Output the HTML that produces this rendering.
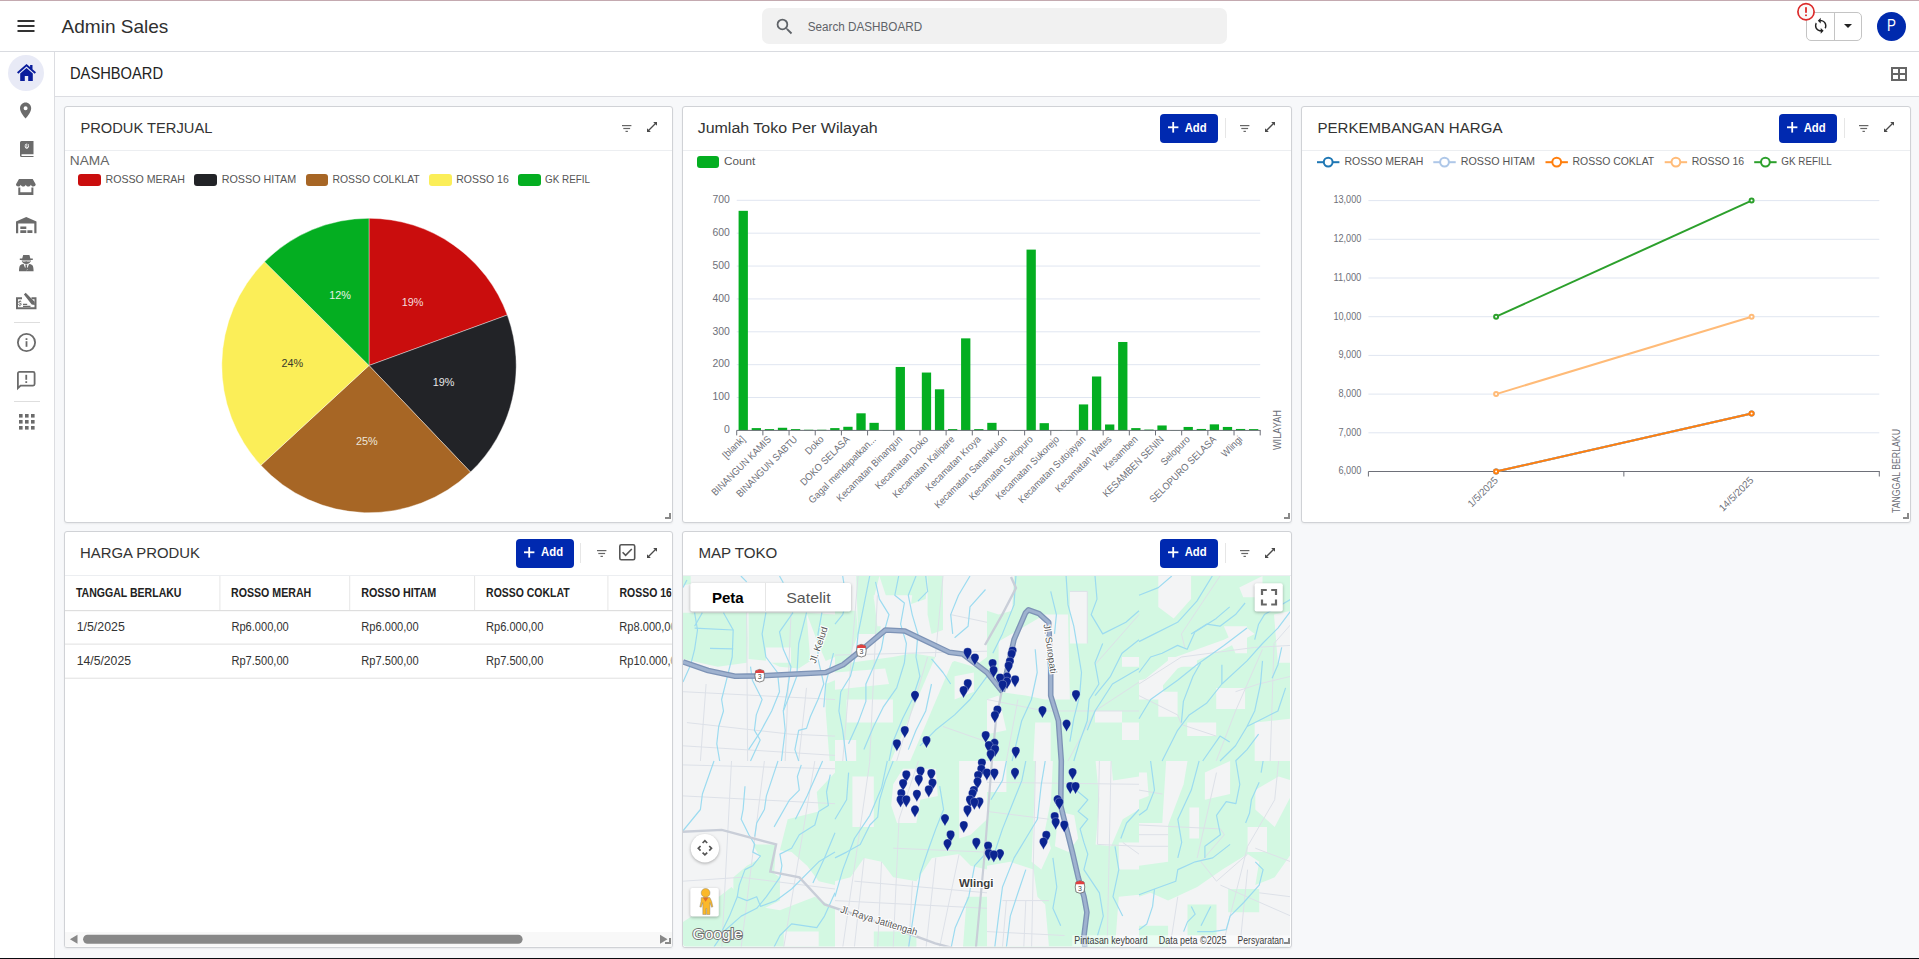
<!DOCTYPE html><html><head><meta charset="utf-8"><style>
*{box-sizing:border-box;margin:0;padding:0}
html,body{width:1919px;height:959px;overflow:hidden;background:#fff;font-family:"Liberation Sans",sans-serif;color:#333}
.a{position:absolute;white-space:nowrap}
svg{position:absolute;overflow:visible}
text{font-family:"Liberation Sans",sans-serif}
.card{position:absolute;background:#fff;border:1px solid #d0d2d6;border-radius:3px;box-shadow:0 1px 2px rgba(0,0,0,0.06)}
.chd{position:absolute;left:0;top:0;right:0;height:44px;border-bottom:1px solid #eceef1}
.add{position:absolute;top:7px;width:58px;height:29px;background:#0029b0;border-radius:4px}
.sep{position:absolute;top:11px;width:1px;height:21px;background:#e4e4e4}
</style></head><body>
<div class="a" style="left:0;top:0;width:1919px;height:1px;background:#c4aab0"></div>
<div class="a" style="left:0;top:1px;width:1919px;height:51px;background:#fff;border-bottom:1px solid #d9dbe0"></div>
<svg style="left:17px;top:20px" width="18" height="12"><rect x="0.5" y="0" width="17" height="2" fill="#333"/><rect x="0.5" y="5" width="17" height="2" fill="#333"/><rect x="0.5" y="10" width="17" height="2" fill="#333"/></svg>
<div class="a" style="left:762px;top:8px;width:465px;height:36px;background:#f1f1f1;border-radius:7px"></div>
<svg style="left:773.6px;top:15.6px" width="21.3" height="21.3" viewBox="0 0 24 24"><path fill="#5f6368" d="M15.5 14h-.79l-.28-.27A6.47 6.47 0 0 0 16 9.5 6.5 6.5 0 1 0 9.5 16c1.61 0 3.09-.59 4.23-1.57l.27.28v.79l5 4.99L20.49 19l-4.99-5zm-6 0C7.01 14 5 11.99 5 9.5S7.01 5 9.5 5 14 7.01 14 9.5 11.99 14 9.5 14z"/></svg>
<div class="a" style="left:1806px;top:12px;width:56px;height:29px;border:1px solid #c4c4c4;border-radius:5px"></div>
<div class="a" style="left:1834px;top:12px;width:1px;height:29px;background:#c4c4c4"></div>
<svg style="left:1812.1px;top:17.3px" width="17.45" height="17.45" viewBox="0 0 24 24"><path fill="#222" d="M12 4V1L8 5l4 4V6c3.31 0 6 2.69 6 6 0 1.01-.25 1.97-.7 2.8l1.46 1.46C19.54 15.03 20 13.57 20 12c0-4.42-3.58-8-8-8zm0 14c-3.31 0-6-2.69-6-6 0-1.01.25-1.97.7-2.8L5.24 7.74C4.46 8.97 4 10.43 4 12c0 4.42 3.58 8 8 8v3l4-4-4-4v3z"/></svg>
<svg style="left:1844px;top:24px" width="8" height="4"><path d="M0 0h8l-4 4z" fill="#222"/></svg>
<svg style="left:1796px;top:2px" width="20" height="20"><circle cx="10" cy="9.75" r="8.1" fill="#fafafa" stroke="#dc2a2a" stroke-width="1.7"/><rect x="9.1" y="5.2" width="1.8" height="5.6" fill="#dc2a2a"/><rect x="9.1" y="12.5" width="1.8" height="1.6" fill="#dc2a2a"/></svg>
<div class="a" style="left:1877px;top:11.9px;width:29px;height:29px;border-radius:50%;background:#002aad"></div>
<div class="a" style="left:0;top:52px;width:55px;height:906px;background:#fff;border-right:1px solid #dcdde1"></div>
<div class="a" style="left:8px;top:54.8px;width:36px;height:36px;border-radius:50%;background:#e8eaf6"></div>
<svg style="left:17px;top:63.5px" width="19" height="17" viewBox="0 0 19 17"><path fill="#0a1d9c" d="M9.5 0L0 8.2l1.3 1.5L9.5 2.6l8.2 7.1 1.3-1.5L15.5 5.2V1h-2.4v2.1z M3.2 9.5V17h4.6v-5h3.4v5h4.6V9.5L9.5 4.1z"/></svg>
<svg style="left:16.1px;top:101.2px" width="19.2" height="19.2" viewBox="0 0 24 24"><path fill="#6b6b6b" d="M12 2C8.13 2 5 5.13 5 9c0 5.25 7 13 7 13s7-7.75 7-13c0-3.87-3.13-7-7-7zm0 9.5a2.5 2.5 0 0 1 0-5 2.5 2.5 0 0 1 0 5z"/></svg>
<svg style="left:19.8px;top:140.8px" width="13.5" height="16" viewBox="0 0 13.5 16"><path fill="#6b6b6b" d="M1.5 0H13.5V13.2H2.2A0.9 0.9 0 0 0 2.2 15H13.5V16H1.5A1.5 1.5 0 0 1 0 14.5V1.5A1.5 1.5 0 0 1 1.5 0z"/><path fill="#fff" d="M4.6 4.5c0 2 1 3.2 2.2 3.2s2.2-1.2 2.2-3.2h-.9c0 1.3-.5 2-1.3 2s-1.3-.7-1.3-2z M6.4 2.5h.8v3.2h-.8z M5 3h.7v1.7H5z M7.9 3h.7v1.7h-.7z"/></svg>
<svg style="left:16.2px;top:178.8px" width="19.7" height="16" viewBox="0 0 19.7 16"><path fill="#6b6b6b" d="M3 0h13.7l3 5.2c0 1.3-1.1 2.3-2.4 2.3-1.2 0-2-.8-2.4-1.8-.4 1-1.3 1.8-2.6 1.8s-2.2-.8-2.5-1.8c-.4 1-1.3 1.8-2.5 1.8S5.1 6.7 4.7 5.7C4.3 6.7 3.6 7.5 2.4 7.5 1.1 7.5 0 6.5 0 5.2z M2.3 8.4h2v4.8h11.1V8.4h2V16H2.3z"/></svg>
<svg style="left:15.9px;top:216.8px" width="20.5" height="16.2" viewBox="0 0 20.5 16.2"><path fill="#6b6b6b" d="M0 4.5L10.25 0 20.5 4.5V16.2H18.3V6.6H2.2V16.2H0Z M4.3 9.4h6v2.6h-6z M4.3 13.2h6v2.7h-6z M11.4 13.2h5v2.7h-5z"/></svg>
<svg style="left:19.1px;top:254.8px" width="14.6" height="16.2" viewBox="0 0 14.6 16.2"><path fill="#6b6b6b" d="M4.2 0h6.2l1 3.4h2.4v1.5H0.8V3.4h2.4z M2.6 5.6h9.4c-.3 1.9-2.2 3.4-4.7 3.4S2.9 7.5 2.6 5.6z M1.2 10.2c1-.8 2.2-1.2 3.4-1.2l2.7 7.2H0c0-2.3.3-4.9 1.2-6z M13.4 10.2c-1-.8-2.2-1.2-3.4-1.2l-2.7 7.2h7.3c0-2.3-.3-4.9-1.2-6z M6.2 9.4h2.2l-.4 1.6.5 3.6-1.2 1.4-1.2-1.4.5-3.6z"/><path fill="#fff" d="M3.6 6.2h3l.5.7h.4l.5-.7h3v.5H3.6z"/></svg>
<svg style="left:15.9px;top:292.8px" width="20.5" height="16.2" viewBox="0 0 20.5 16.2"><path fill="none" stroke="#6b6b6b" stroke-width="2" d="M6 5.2H1V15.2H19.5V5.2H15.5"/><path fill="#6b6b6b" d="M7.9 1.6L9.7 -0.2 18.6 8.7 18.9 11.9 15.7 11.6z M3.8 8.1c-.9 0-1.5.5-1.5 1.2 0 1.4 2.4 1 2.4 1.9 0 .4-.3.6-.9.6-.5 0-.9-.3-1-.7H2.1c.1.7.6 1.2 1.3 1.3v.8h.9v-.8c.8-.1 1.3-.6 1.3-1.2 0-1.5-2.4-1.1-2.4-1.9 0-.3.3-.6.8-.6.4 0 .8.2.9.6h.7c-.1-.6-.5-1-1.1-1.1V7.3h-.9z M7 10.8h4.2v1.3H7z M7 12.7h7.5v1.2H7z"/></svg>
<div class="a" style="left:14px;top:322px;width:26px;height:1px;background:#dedede"></div>
<svg style="left:16.5px;top:333px" width="19" height="19" viewBox="0 0 19 19"><circle cx="9.5" cy="9.5" r="8.6" fill="none" stroke="#6b6b6b" stroke-width="1.8"/><rect x="8.6" y="8.2" width="1.8" height="5.6" fill="#6b6b6b"/><rect x="8.6" y="5.2" width="1.8" height="1.8" fill="#6b6b6b"/></svg>
<svg style="left:16.5px;top:371.2px" width="18.5" height="18.5" viewBox="0 0 18.5 18.5"><path fill="none" stroke="#6b6b6b" stroke-width="1.8" d="M0.9 17.2V2.4c0-.8.7-1.5 1.5-1.5h13.7c.8 0 1.5.7 1.5 1.5v10.7c0 .8-.7 1.5-1.5 1.5H3.6z"/><rect x="8.35" y="3.8" width="1.8" height="5" fill="#6b6b6b"/><rect x="8.35" y="10.2" width="1.8" height="1.8" fill="#6b6b6b"/></svg>
<div class="a" style="left:14px;top:401px;width:26px;height:1px;background:#dedede"></div>
<svg style="left:18.5px;top:414px" width="16" height="16"><rect x="0.0" y="0.0" width="3.6" height="3.6" fill="#6b6b6b"/><rect x="0.0" y="6.0" width="3.6" height="3.6" fill="#6b6b6b"/><rect x="0.0" y="12.0" width="3.6" height="3.6" fill="#6b6b6b"/><rect x="6.0" y="0.0" width="3.6" height="3.6" fill="#6b6b6b"/><rect x="6.0" y="6.0" width="3.6" height="3.6" fill="#6b6b6b"/><rect x="6.0" y="12.0" width="3.6" height="3.6" fill="#6b6b6b"/><rect x="12.0" y="0.0" width="3.6" height="3.6" fill="#6b6b6b"/><rect x="12.0" y="6.0" width="3.6" height="3.6" fill="#6b6b6b"/><rect x="12.0" y="12.0" width="3.6" height="3.6" fill="#6b6b6b"/></svg>
<div class="a" style="left:55px;top:97px;width:1864px;height:861px;background:#f7f8fa"></div>
<div class="a" style="left:55px;top:52px;width:1864px;height:45px;background:#fff;border-bottom:1px solid #dcdde2"></div>
<svg style="left:1890.5px;top:67px" width="16" height="14"><rect x="1" y="1" width="14" height="12" fill="none" stroke="#666" stroke-width="2"/><rect x="7" y="1" width="2" height="12" fill="#666"/><rect x="1" y="6" width="14" height="2" fill="#666"/></svg>
<div class="card" style="left:64px;top:106px;width:609px;height:417px"></div>
<div class="a" style="left:65px;top:150px;width:607px;height:1px;background:#eceef1"></div>
<div class="card" style="left:682px;top:106px;width:610px;height:417px"></div>
<div class="a" style="left:683px;top:150px;width:608px;height:1px;background:#eceef1"></div>
<div class="card" style="left:1301px;top:106px;width:610px;height:417px"></div>
<div class="a" style="left:1302px;top:150px;width:608px;height:1px;background:#eceef1"></div>
<div class="card" style="left:64px;top:531px;width:609px;height:417px"></div>
<div class="a" style="left:65px;top:575px;width:607px;height:1px;background:#eceef1"></div>
<div class="card" style="left:682px;top:531px;width:610px;height:417px"></div>
<div class="a" style="left:683px;top:575px;width:608px;height:1px;background:#eceef1"></div>
<svg style="left:621.9px;top:124.8px" width="10" height="8"><rect x="0" y="0" width="9.4" height="1.2" fill="#666"/><rect x="1.3" y="2.9" width="6.8" height="1.2" fill="#666"/><rect x="3.5" y="5.8" width="2.4" height="1.2" fill="#666"/></svg>
<svg style="left:646.2px;top:121.3px" width="12" height="12" viewBox="0 0 12 12"><path d="M2 10L10 2" stroke="#4a4a4a" stroke-width="1.3"/><path d="M7.2 1H11V4.8z" fill="#4a4a4a"/><path d="M1 7.2V11H4.8z" fill="#4a4a4a"/></svg>
<div class="a" style="left:1159.5px;top:114.2px;width:58px;height:29px;background:#0029b0;border-radius:4px"></div>
<svg style="left:1167.8px;top:122.2px" width="12" height="12"><rect x="0" y="4.4" width="10.4" height="1.8" fill="#fff"/><rect x="4.3" y="0" width="1.8" height="10.6" fill="#fff"/></svg>
<div class="a" style="left:1224.7px;top:118px;width:1px;height:20px;background:#e6e6e6"></div>
<svg style="left:1240.0px;top:124.8px" width="10" height="8"><rect x="0" y="0" width="9.4" height="1.2" fill="#666"/><rect x="1.3" y="2.9" width="6.8" height="1.2" fill="#666"/><rect x="3.5" y="5.8" width="2.4" height="1.2" fill="#666"/></svg>
<svg style="left:1264.3px;top:121.3px" width="12" height="12" viewBox="0 0 12 12"><path d="M2 10L10 2" stroke="#4a4a4a" stroke-width="1.3"/><path d="M7.2 1H11V4.8z" fill="#4a4a4a"/><path d="M1 7.2V11H4.8z" fill="#4a4a4a"/></svg>
<div class="a" style="left:1778.5px;top:114.2px;width:58px;height:29px;background:#0029b0;border-radius:4px"></div>
<svg style="left:1786.8px;top:122.2px" width="12" height="12"><rect x="0" y="4.4" width="10.4" height="1.8" fill="#fff"/><rect x="4.3" y="0" width="1.8" height="10.6" fill="#fff"/></svg>
<div class="a" style="left:1843.7px;top:118px;width:1px;height:20px;background:#e6e6e6"></div>
<svg style="left:1859.0px;top:124.8px" width="10" height="8"><rect x="0" y="0" width="9.4" height="1.2" fill="#666"/><rect x="1.3" y="2.9" width="6.8" height="1.2" fill="#666"/><rect x="3.5" y="5.8" width="2.4" height="1.2" fill="#666"/></svg>
<svg style="left:1883.3px;top:121.3px" width="12" height="12" viewBox="0 0 12 12"><path d="M2 10L10 2" stroke="#4a4a4a" stroke-width="1.3"/><path d="M7.2 1H11V4.8z" fill="#4a4a4a"/><path d="M1 7.2V11H4.8z" fill="#4a4a4a"/></svg>
<div class="a" style="left:515.9px;top:538.8px;width:58px;height:29px;background:#0029b0;border-radius:4px"></div>
<svg style="left:524.2px;top:546.8px" width="12" height="12"><rect x="0" y="4.4" width="10.4" height="1.8" fill="#fff"/><rect x="4.3" y="0" width="1.8" height="10.6" fill="#fff"/></svg>
<div class="a" style="left:580.2px;top:543px;width:1px;height:20px;background:#e6e6e6"></div>
<svg style="left:596.5px;top:549.9px" width="10" height="8"><rect x="0" y="0" width="9.4" height="1.2" fill="#666"/><rect x="1.3" y="2.9" width="6.8" height="1.2" fill="#666"/><rect x="3.5" y="5.8" width="2.4" height="1.2" fill="#666"/></svg>
<svg style="left:618.6px;top:544.3px" width="16.5" height="16.5" viewBox="0 0 16.5 16.5"><rect x="0.8" y="0.8" width="14.9" height="14.9" rx="1.5" fill="none" stroke="#555" stroke-width="1.6"/><path d="M3.6 8.3l3 3 6.2-6.3" fill="none" stroke="#555" stroke-width="1.6"/></svg>
<svg style="left:646.0px;top:546.5px" width="12" height="12" viewBox="0 0 12 12"><path d="M2 10L10 2" stroke="#4a4a4a" stroke-width="1.3"/><path d="M7.2 1H11V4.8z" fill="#4a4a4a"/><path d="M1 7.2V11H4.8z" fill="#4a4a4a"/></svg>
<div class="a" style="left:1159.5px;top:538.8px;width:58px;height:29px;background:#0029b0;border-radius:4px"></div>
<svg style="left:1167.8px;top:546.8px" width="12" height="12"><rect x="0" y="4.4" width="10.4" height="1.8" fill="#fff"/><rect x="4.3" y="0" width="1.8" height="10.6" fill="#fff"/></svg>
<div class="a" style="left:1224.7px;top:543px;width:1px;height:20px;background:#e6e6e6"></div>
<svg style="left:1240.0px;top:549.9px" width="10" height="8"><rect x="0" y="0" width="9.4" height="1.2" fill="#666"/><rect x="1.3" y="2.9" width="6.8" height="1.2" fill="#666"/><rect x="3.5" y="5.8" width="2.4" height="1.2" fill="#666"/></svg>
<svg style="left:1264.3px;top:546.5px" width="12" height="12" viewBox="0 0 12 12"><path d="M2 10L10 2" stroke="#4a4a4a" stroke-width="1.3"/><path d="M7.2 1H11V4.8z" fill="#4a4a4a"/><path d="M1 7.2V11H4.8z" fill="#4a4a4a"/></svg>
<div class="a" style="left:78.3px;top:173.8px;width:22.5px;height:12.5px;border-radius:3px;background:#ca0d0d"></div>
<div class="a" style="left:194.2px;top:173.8px;width:22.5px;height:12.5px;border-radius:3px;background:#222327"></div>
<div class="a" style="left:305.5px;top:173.8px;width:22.5px;height:12.5px;border-radius:3px;background:#a76625"></div>
<div class="a" style="left:429.2px;top:173.8px;width:22.5px;height:12.5px;border-radius:3px;background:#fbee58"></div>
<div class="a" style="left:518.0px;top:173.8px;width:22.5px;height:12.5px;border-radius:3px;background:#04ae21"></div>
<svg style="left:0;top:0" width="1" height="1"><path d="M369.00 365.50L369.00 218.30A147.20 147.20 0 0 1 507.28 315.03Z" fill="#ca0d0d" stroke="#fff" stroke-width="0.4"/><path d="M369.00 365.50L507.28 315.03A147.20 147.20 0 0 1 470.51 472.10Z" fill="#222327" stroke="#fff" stroke-width="0.4"/><path d="M369.00 365.50L470.51 472.10A147.20 147.20 0 0 1 260.82 465.33Z" fill="#a76625" stroke="#fff" stroke-width="0.4"/><path d="M369.00 365.50L260.82 465.33A147.20 147.20 0 0 1 264.55 261.78Z" fill="#fbee58" stroke="#fff" stroke-width="0.4"/><path d="M369.00 365.50L264.55 261.78A147.20 147.20 0 0 1 369.00 218.30Z" fill="#04ae21" stroke="#fff" stroke-width="0.4"/></svg>
<div class="a" style="left:696.9px;top:155.8px;width:22.3px;height:12.5px;border-radius:3px;background:#04ae21"></div>
<svg style="left:0;top:0" width="1" height="1"><rect x="736.70" y="397.03" width="523.50" height="1" fill="#e0e6f1"/><rect x="736.70" y="364.16" width="523.50" height="1" fill="#e0e6f1"/><rect x="736.70" y="331.29" width="523.50" height="1" fill="#e0e6f1"/><rect x="736.70" y="298.42" width="523.50" height="1" fill="#e0e6f1"/><rect x="736.70" y="265.55" width="523.50" height="1" fill="#e0e6f1"/><rect x="736.70" y="232.68" width="523.50" height="1" fill="#e0e6f1"/><rect x="736.70" y="199.81" width="523.50" height="1" fill="#e0e6f1"/><rect x="738.59" y="210.83" width="9.3" height="219.57" fill="#04ae21"/><rect x="751.68" y="428.10" width="9.3" height="2.30" fill="#04ae21"/><rect x="764.77" y="429.09" width="9.3" height="1.31" fill="#04ae21"/><rect x="777.86" y="427.77" width="9.3" height="2.63" fill="#04ae21"/><rect x="790.94" y="429.09" width="9.3" height="1.31" fill="#04ae21"/><rect x="804.03" y="429.74" width="9.3" height="0.66" fill="#04ae21"/><rect x="817.12" y="429.74" width="9.3" height="0.66" fill="#04ae21"/><rect x="830.21" y="428.10" width="9.3" height="2.30" fill="#04ae21"/><rect x="843.29" y="426.78" width="9.3" height="3.62" fill="#04ae21"/><rect x="856.38" y="413.31" width="9.3" height="17.09" fill="#04ae21"/><rect x="869.47" y="422.84" width="9.3" height="7.56" fill="#04ae21"/><rect x="882.56" y="430.07" width="9.3" height="0.33" fill="#04ae21"/><rect x="895.64" y="366.96" width="9.3" height="63.44" fill="#04ae21"/><rect x="908.73" y="430.07" width="9.3" height="0.33" fill="#04ae21"/><rect x="921.82" y="372.55" width="9.3" height="57.85" fill="#04ae21"/><rect x="934.91" y="389.31" width="9.3" height="41.09" fill="#04ae21"/><rect x="947.99" y="429.09" width="9.3" height="1.31" fill="#04ae21"/><rect x="961.08" y="338.36" width="9.3" height="92.04" fill="#04ae21"/><rect x="974.17" y="429.09" width="9.3" height="1.31" fill="#04ae21"/><rect x="987.26" y="422.84" width="9.3" height="7.56" fill="#04ae21"/><rect x="1000.34" y="430.07" width="9.3" height="0.33" fill="#04ae21"/><rect x="1013.43" y="430.07" width="9.3" height="0.33" fill="#04ae21"/><rect x="1026.52" y="249.61" width="9.3" height="180.78" fill="#04ae21"/><rect x="1039.61" y="423.17" width="9.3" height="7.23" fill="#04ae21"/><rect x="1052.69" y="430.07" width="9.3" height="0.33" fill="#04ae21"/><rect x="1065.78" y="430.07" width="9.3" height="0.33" fill="#04ae21"/><rect x="1078.87" y="404.43" width="9.3" height="25.97" fill="#04ae21"/><rect x="1091.96" y="376.49" width="9.3" height="53.91" fill="#04ae21"/><rect x="1105.04" y="424.48" width="9.3" height="5.92" fill="#04ae21"/><rect x="1118.13" y="341.98" width="9.3" height="88.42" fill="#04ae21"/><rect x="1131.22" y="428.10" width="9.3" height="2.30" fill="#04ae21"/><rect x="1144.31" y="429.58" width="9.3" height="0.82" fill="#04ae21"/><rect x="1157.39" y="425.47" width="9.3" height="4.93" fill="#04ae21"/><rect x="1170.48" y="430.07" width="9.3" height="0.33" fill="#04ae21"/><rect x="1183.57" y="426.95" width="9.3" height="3.45" fill="#04ae21"/><rect x="1196.66" y="428.95" width="9.3" height="1.45" fill="#04ae21"/><rect x="1209.74" y="424.35" width="9.3" height="6.05" fill="#04ae21"/><rect x="1222.83" y="426.95" width="9.3" height="3.45" fill="#04ae21"/><rect x="1235.92" y="428.95" width="9.3" height="1.45" fill="#04ae21"/><rect x="1249.01" y="429.09" width="9.3" height="1.31" fill="#04ae21"/><rect x="736.70" y="429.90" width="524.00" height="1" fill="#6e7079"/><rect x="736.20" y="430.40" width="1" height="5" fill="#6e7079"/><rect x="762.38" y="430.40" width="1" height="5" fill="#6e7079"/><rect x="788.55" y="430.40" width="1" height="5" fill="#6e7079"/><rect x="814.73" y="430.40" width="1" height="5" fill="#6e7079"/><rect x="840.90" y="430.40" width="1" height="5" fill="#6e7079"/><rect x="867.08" y="430.40" width="1" height="5" fill="#6e7079"/><rect x="893.25" y="430.40" width="1" height="5" fill="#6e7079"/><rect x="919.43" y="430.40" width="1" height="5" fill="#6e7079"/><rect x="945.60" y="430.40" width="1" height="5" fill="#6e7079"/><rect x="971.78" y="430.40" width="1" height="5" fill="#6e7079"/><rect x="997.95" y="430.40" width="1" height="5" fill="#6e7079"/><rect x="1024.12" y="430.40" width="1" height="5" fill="#6e7079"/><rect x="1050.30" y="430.40" width="1" height="5" fill="#6e7079"/><rect x="1076.48" y="430.40" width="1" height="5" fill="#6e7079"/><rect x="1102.65" y="430.40" width="1" height="5" fill="#6e7079"/><rect x="1128.83" y="430.40" width="1" height="5" fill="#6e7079"/><rect x="1155.00" y="430.40" width="1" height="5" fill="#6e7079"/><rect x="1181.18" y="430.40" width="1" height="5" fill="#6e7079"/><rect x="1207.35" y="430.40" width="1" height="5" fill="#6e7079"/><rect x="1233.53" y="430.40" width="1" height="5" fill="#6e7079"/><rect x="1259.70" y="430.40" width="1" height="5" fill="#6e7079"/></svg>
<svg style="left:0;top:0" width="1" height="1"><rect x="1317.00" y="161.2" width="22.4" height="2" fill="#1f77b4"/><circle cx="1328.20" cy="162.1" r="4.4" fill="#fff" stroke="#1f77b4" stroke-width="2"/><rect x="1433.30" y="161.2" width="22.4" height="2" fill="#aec7e8"/><circle cx="1444.50" cy="162.1" r="4.4" fill="#fff" stroke="#aec7e8" stroke-width="2"/><rect x="1545.50" y="161.2" width="22.4" height="2" fill="#ff7f0e"/><circle cx="1556.70" cy="162.1" r="4.4" fill="#fff" stroke="#ff7f0e" stroke-width="2"/><rect x="1664.70" y="161.2" width="22.4" height="2" fill="#ffbb78"/><circle cx="1675.90" cy="162.1" r="4.4" fill="#fff" stroke="#ffbb78" stroke-width="2"/><rect x="1754.20" y="161.2" width="22.4" height="2" fill="#2ca02c"/><circle cx="1765.40" cy="162.1" r="4.4" fill="#fff" stroke="#2ca02c" stroke-width="2"/><rect x="1368.40" y="432.30" width="510.90" height="1" fill="#e0e6f1"/><rect x="1368.40" y="393.60" width="510.90" height="1" fill="#e0e6f1"/><rect x="1368.40" y="354.90" width="510.90" height="1" fill="#e0e6f1"/><rect x="1368.40" y="316.20" width="510.90" height="1" fill="#e0e6f1"/><rect x="1368.40" y="277.50" width="510.90" height="1" fill="#e0e6f1"/><rect x="1368.40" y="238.80" width="510.90" height="1" fill="#e0e6f1"/><rect x="1368.40" y="200.10" width="510.90" height="1" fill="#e0e6f1"/><rect x="1368.40" y="471.00" width="511.40" height="1" fill="#6e7079"/><rect x="1367.90" y="471.50" width="1" height="5" fill="#6e7079"/><rect x="1623.35" y="471.50" width="1" height="5" fill="#6e7079"/><rect x="1878.80" y="471.50" width="1" height="5" fill="#6e7079"/><path d="M1496.10 471.50L1751.60 413.45" stroke="#1f77b4" stroke-width="2" fill="none"/><circle cx="1496.10" cy="471.50" r="2" fill="#fff" stroke="#1f77b4" stroke-width="2"/><circle cx="1751.60" cy="413.45" r="2" fill="#fff" stroke="#1f77b4" stroke-width="2"/><path d="M1496.10 471.50L1751.60 413.45" stroke="#aec7e8" stroke-width="2" fill="none"/><circle cx="1496.10" cy="471.50" r="2" fill="#fff" stroke="#aec7e8" stroke-width="2"/><circle cx="1751.60" cy="413.45" r="2" fill="#fff" stroke="#aec7e8" stroke-width="2"/><path d="M1496.10 471.50L1751.60 413.45" stroke="#ff7f0e" stroke-width="2" fill="none"/><circle cx="1496.10" cy="471.50" r="2" fill="#fff" stroke="#ff7f0e" stroke-width="2"/><circle cx="1751.60" cy="413.45" r="2" fill="#fff" stroke="#ff7f0e" stroke-width="2"/><path d="M1496.10 394.10L1751.60 316.70" stroke="#ffbb78" stroke-width="2" fill="none"/><circle cx="1496.10" cy="394.10" r="2" fill="#fff" stroke="#ffbb78" stroke-width="2"/><circle cx="1751.60" cy="316.70" r="2" fill="#fff" stroke="#ffbb78" stroke-width="2"/><path d="M1496.10 316.70L1751.60 200.60" stroke="#2ca02c" stroke-width="2" fill="none"/><circle cx="1496.10" cy="316.70" r="2" fill="#fff" stroke="#2ca02c" stroke-width="2"/><circle cx="1751.60" cy="200.60" r="2" fill="#fff" stroke="#2ca02c" stroke-width="2"/></svg>
<svg style="left:0;top:0" width="1" height="1"><rect x="65" y="610" width="607" height="1.2" fill="#dedede"/><rect x="65" y="643.6" width="607" height="1" fill="#e0e0e0"/><rect x="65" y="677.7" width="607" height="1" fill="#e0e0e0"/><rect x="219.4" y="576" width="1" height="34" fill="#e6e6e6"/><rect x="349.2" y="576" width="1" height="34" fill="#e6e6e6"/><rect x="474.1" y="576" width="1" height="34" fill="#e6e6e6"/><rect x="607.4" y="576" width="1" height="34" fill="#e6e6e6"/><rect x="65" y="932" width="607" height="14.5" fill="#f8f8f8"/><path d="M69.9 939.2L77.5 934.8V943.7Z" fill="#888"/><rect x="83.1" y="934.8" width="439.5" height="8.9" rx="4.45" fill="#888"/><path d="M667.5 939.2L660 934.8V943.7Z" fill="#888"/></svg>
<svg style="left:0;top:0" width="1" height="1"><defs><clipPath id="mclip"><path d="M683 576H1290V943.5A3 3 0 0 1 1287 946.5H686A3 3 0 0 1 683 943.5Z"/></clipPath></defs><g clip-path="url(#mclip)"><rect x="683" y="576" width="607" height="371" fill="#f3f4f5"/><clipPath id="sc0"><rect x="683" y="576" width="152" height="185"/></clipPath><g clip-path="url(#sc0)"><polygon points="683.0,612.7 746.7,612.7 747.6,639.7 746.7,662.8 717.7,666.7 683.0,658.9" fill="#d3f8e2"/><polygon points="748.6,612.7 806.5,612.7 810.3,660.9 798.7,668.6 779.5,666.7 767.9,660.9 748.6,658.9" fill="#d3f8e2"/><polygon points="806.5,612.7 835.0,614.6 835.0,657.0 825.7,660.9 818.0,643.5" fill="#d3f8e2"/><polygon points="825.7,684.0 835.0,680.2 835.0,761.0 829.6,761.0 825.7,711.0" fill="#d3f8e2"/><polygon points="683.0,576.0 690.7,576.0 690.7,583.7 683.0,585.6" fill="#d3f8e2"/><polygon points="765.9,647.4 791.0,647.4 791.0,662.8 765.9,662.8" fill="#f3f4f5"/></g><clipPath id="sc1"><rect x="835" y="576" width="152" height="185"/></clipPath><g clip-path="url(#sc1)"><polygon points="835.0,610.7 856.2,610.7 858.1,633.9 846.6,664.7 835.0,666.7" fill="#d3f8e2"/><polygon points="856.2,576.0 879.4,576.0 873.6,599.1 883.2,614.6 879.4,633.9 858.1,633.9" fill="#d3f8e2"/><polygon points="879.4,576.0 927.6,576.0 925.7,599.1 902.5,606.9 889.0,604.9" fill="#d3f8e2"/><polygon points="927.6,576.0 943.0,576.0 943.0,630.0 931.5,633.9 927.6,614.6" fill="#d3f8e2"/><polygon points="835.0,664.7 892.9,657.0 912.2,653.2 935.3,657.0 943.0,666.7 954.6,660.9 973.9,666.7 987.0,657.0 987.0,761.0 835.0,761.0" fill="#d3f8e2"/><polygon points="890.9,761.0 910.2,761.0 952.7,660.9 935.3,657.0" fill="#f3f4f5"/><polygon points="846.6,699.5 892.9,699.5 892.9,722.6 846.6,722.6" fill="#f3f4f5"/><polygon points="835.0,740.0 856.2,740.0 856.2,761.0 835.0,761.0" fill="#f3f4f5"/><polygon points="835.0,672.5 885.2,668.6 889.0,684.0 835.0,689.8" fill="#f3f4f5"/><polygon points="943.0,576.0 987.0,576.0 987.0,649.3 966.2,653.2 943.0,633.9" fill="#f3f4f5"/><polygon points="873.6,595.3 912.2,595.3 908.3,626.2 877.4,626.2" fill="#f3f4f5"/><polygon points="954.6,676.3 973.9,672.5 973.9,691.7 954.6,699.5" fill="#f3f4f5"/></g><clipPath id="sc2"><rect x="987" y="576" width="152" height="185"/></clipPath><g clip-path="url(#sc2)"><polygon points="987.0,576.0 1139.0,576.0 1139.0,761.0 987.0,761.0" fill="#d3f8e2"/><polygon points="987.0,576.0 1014.0,576.0 1012.1,610.7 998.6,614.6 987.0,610.7" fill="#f3f4f5"/><polygon points="998.6,641.6 1044.9,614.6 1068.0,614.6 1069.9,699.5 1044.9,699.5 1025.6,695.6 998.6,691.7" fill="#f3f4f5"/><polygon points="1069.9,591.4 1087.3,591.4 1087.3,643.5 1069.9,643.5" fill="#f3f4f5"/><polygon points="1122.0,657.0 1139.0,657.0 1139.0,666.7 1122.0,666.7" fill="#f3f4f5"/><polygon points="1095.0,711.0 1122.0,711.0 1122.0,722.6 1095.0,722.6" fill="#f3f4f5"/><polygon points="1122.0,722.6 1139.0,722.6 1139.0,740.0 1122.0,740.0" fill="#f3f4f5"/><polygon points="987.0,699.5 998.6,695.6 1006.3,730.3 987.0,734.2" fill="#f3f4f5"/><polygon points="1035.2,722.6 1050.7,722.6 1050.7,761.0 1033.3,761.0" fill="#f3f4f5"/></g><clipPath id="sc3"><rect x="1139" y="576" width="152" height="185"/></clipPath><g clip-path="url(#sc3)"><polygon points="1139.0,576.0 1291.0,576.0 1291.0,761.0 1139.0,761.0" fill="#d3f8e2"/><polygon points="1158.3,576.0 1191.1,576.0 1191.1,599.1 1173.7,618.4 1158.3,606.9" fill="#f3f4f5"/><polygon points="1139.0,680.2 1162.1,676.3 1164.1,699.5 1139.0,699.5" fill="#f3f4f5"/><polygon points="1139.0,684.0 1169.9,658.9 1223.9,639.7 1247.0,628.1 1254.7,633.9 1223.9,649.3 1177.6,668.6 1150.6,699.5" fill="#f3f4f5"/><polygon points="1167.9,657.0 1196.9,657.0 1196.9,666.7 1167.9,666.7" fill="#f3f4f5"/><polygon points="1223.9,626.2 1247.0,626.2 1247.0,653.2 1235.5,653.2" fill="#f3f4f5"/><polygon points="1158.3,691.7 1177.6,691.7 1177.6,716.8 1158.3,716.8" fill="#f3f4f5"/><polygon points="1216.2,687.9 1245.1,687.9 1245.1,709.1 1216.2,709.1" fill="#f3f4f5"/><polygon points="1187.2,722.6 1216.2,722.6 1216.2,736.1 1187.2,736.1" fill="#f3f4f5"/><polygon points="1254.7,722.6 1291.0,718.7 1291.0,761.0 1254.7,761.0" fill="#f3f4f5"/><polygon points="1239.3,587.6 1262.5,576.0 1262.5,597.2 1243.2,597.2" fill="#f3f4f5"/><polygon points="1274.0,614.6 1291.0,610.7 1291.0,662.8 1277.9,662.8" fill="#f3f4f5"/></g><clipPath id="sc4"><rect x="683" y="761" width="152" height="186"/></clipPath><g clip-path="url(#sc4)"><polygon points="787.7,819.2 818.7,811.4 816.8,792.0 835.0,772.6 835.0,885.1 818.7,881.2 807.1,865.7 791.6,852.1 779.9,850.2" fill="#d3f8e2"/><polygon points="752.8,844.4 776.1,844.4 774.1,873.4 779.9,877.3 779.9,900.6 756.7,912.2 733.4,896.7 733.4,877.3 747.0,865.7 760.5,857.9" fill="#d3f8e2"/><polygon points="683.0,946.9 683.0,921.9 706.3,906.4 731.5,887.0 747.0,904.5 779.9,910.3 814.8,896.7 835.0,908.3 835.0,946.9" fill="#d3f8e2"/><polygon points="783.8,931.6 818.7,931.6 818.7,946.9 783.8,946.9" fill="#f3f4f5"/></g><clipPath id="sc5"><rect x="835" y="761" width="152" height="186"/></clipPath><g clip-path="url(#sc5)"><polygon points="835.0,761.0 987.0,761.0 987.0,869.6 970.7,865.7 959.1,854.1 931.9,857.9 916.4,881.2 893.2,877.3 881.5,861.8 864.1,857.9 850.5,877.3 835.0,881.2" fill="#d3f8e2"/><polygon points="966.8,896.7 987.0,896.7 987.0,946.9 963.0,946.9" fill="#d3f8e2"/><polygon points="873.8,931.6 916.4,931.6 916.4,946.9 873.8,946.9" fill="#d3f8e2"/><polygon points="852.4,776.5 873.8,776.5 873.8,826.9 852.4,826.9" fill="#f3f4f5"/><polygon points="893.2,784.3 902.9,768.8 935.8,768.8 937.8,795.9 920.3,799.8 916.4,823.0 897.0,823.0 891.2,805.6" fill="#f3f4f5"/><polygon points="959.1,761.0 987.0,761.0 987.0,819.2 970.7,834.7 959.1,838.5" fill="#f3f4f5"/></g><clipPath id="sc6"><rect x="987" y="761" width="152" height="186"/></clipPath><g clip-path="url(#sc6)"><polygon points="987.0,761.0 1139.0,761.0 1139.0,946.9 987.0,946.9" fill="#d3f8e2"/><polygon points="987.0,865.7 1010.3,861.8 1033.5,869.6 1037.4,896.7 1045.2,904.5 1049.0,946.9 987.0,946.9" fill="#f3f4f5"/><polygon points="1035.5,761.0 1052.9,761.0 1051.0,799.8 1045.2,828.9 1051.0,848.2 1041.3,869.6 1031.6,861.8 1033.5,819.2" fill="#f3f4f5"/><polygon points="1058.7,811.4 1074.2,815.3 1078.1,838.5 1068.4,852.1 1054.9,846.3" fill="#f3f4f5"/><polygon points="1095.6,761.0 1111.1,761.0 1113.0,780.4 1139.0,776.5 1139.0,809.5 1122.7,819.2 1111.1,846.3 1095.6,844.4 1099.4,799.8" fill="#f3f4f5"/><polygon points="1118.8,842.4 1139.0,842.4 1139.0,869.6 1118.8,869.6" fill="#f3f4f5"/><polygon points="1118.8,896.7 1139.0,894.8 1139.0,946.9 1115.0,946.9" fill="#f3f4f5"/><polygon points="987.0,761.0 1006.4,761.0 1006.4,792.0 987.0,792.0" fill="#f3f4f5"/></g><clipPath id="sc7"><rect x="1139" y="761" width="152" height="186"/></clipPath><g clip-path="url(#sc7)"><polygon points="1139.0,761.0 1291.0,761.0 1291.0,946.9 1139.0,946.9" fill="#d3f8e2"/><polygon points="1139.0,772.6 1146.8,772.6 1148.7,795.9 1139.0,799.8" fill="#f3f4f5"/><polygon points="1166.1,761.0 1187.5,761.0 1183.6,784.3 1168.1,825.0 1162.3,823.0" fill="#f3f4f5"/><polygon points="1204.9,772.6 1230.1,761.0 1230.1,794.0 1204.9,799.8" fill="#f3f4f5"/><polygon points="1139.0,823.0 1168.1,823.0 1168.1,861.8 1139.0,865.7" fill="#f3f4f5"/><polygon points="1189.4,807.5 1199.1,807.5 1199.1,838.5 1189.4,838.5" fill="#f3f4f5"/><polygon points="1255.3,790.1 1278.6,776.5 1291.0,780.4 1291.0,795.9 1274.7,826.9 1255.3,809.5" fill="#f3f4f5"/><polygon points="1247.6,826.9 1267.0,826.9 1267.0,852.1 1247.6,852.1" fill="#f3f4f5"/><polygon points="1139.0,896.7 1150.6,892.8 1168.1,900.6 1197.2,887.0 1222.4,869.6 1247.6,854.1 1259.2,861.8 1255.3,885.1 1274.7,877.3 1291.0,854.1 1291.0,946.9 1139.0,946.9" fill="#f3f4f5"/><polygon points="1187.5,904.5 1216.5,904.5 1216.5,935.5 1187.5,935.5" fill="#d3f8e2"/><polygon points="1228.2,889.0 1259.2,889.0 1259.2,912.2 1228.2,912.2" fill="#d3f8e2"/><polygon points="1139.0,925.8 1168.1,925.8 1168.1,946.9 1139.0,946.9" fill="#d3f8e2"/></g><polyline points="746.7,612.7 747.6,761.0" fill="none" stroke="#dde1e8" stroke-width="1"/><polyline points="683.0,691.7 835.0,699.5" fill="none" stroke="#dde1e8" stroke-width="1"/><polyline points="686.9,722.6 791.0,734.2 835.0,736.1" fill="none" stroke="#dde1e8" stroke-width="1"/><polyline points="683.0,745.8 835.0,755.4" fill="none" stroke="#dde1e8" stroke-width="1"/><polyline points="806.5,687.9 798.7,761.0" fill="none" stroke="#dde1e8" stroke-width="1"/><polyline points="706.1,684.0 700.4,761.0" fill="none" stroke="#dde1e8" stroke-width="1"/><polyline points="791.0,612.7 785.2,761.0" fill="none" stroke="#dde1e8" stroke-width="1"/><polyline points="835.0,655.1 987.0,651.2" fill="none" stroke="#dde1e8" stroke-width="1"/><polyline points="858.1,576.0 842.7,761.0" fill="none" stroke="#dde1e8" stroke-width="1"/><polyline points="877.4,595.3 869.7,761.0" fill="none" stroke="#dde1e8" stroke-width="1"/><polyline points="943.0,576.0 935.3,657.0" fill="none" stroke="#dde1e8" stroke-width="1"/><polyline points="927.6,657.0 896.7,761.0" fill="none" stroke="#dde1e8" stroke-width="1"/><polyline points="943.0,726.5 987.0,741.9" fill="none" stroke="#dde1e8" stroke-width="1"/><polyline points="950.7,614.6 987.0,622.3" fill="none" stroke="#dde1e8" stroke-width="1"/><polyline points="1069.9,591.4 1087.3,591.4 1087.3,643.5" fill="none" stroke="#dde1e8" stroke-width="1"/><polyline points="987.0,699.5 1044.9,711.0 1139.0,711.0" fill="none" stroke="#dde1e8" stroke-width="1"/><polyline points="1139.0,682.1 1095.0,711.0 1068.0,761.0" fill="none" stroke="#dde1e8" stroke-width="1"/><polyline points="1139.0,614.6 1095.0,664.7" fill="none" stroke="#dde1e8" stroke-width="1"/><polyline points="1017.9,699.5 1006.3,761.0" fill="none" stroke="#dde1e8" stroke-width="1"/><polyline points="1139.0,684.0 1181.4,657.0 1254.7,647.4 1291.0,645.4" fill="none" stroke="#dde1e8" stroke-width="1"/><polyline points="1220.0,576.0 1181.4,633.9 1185.3,649.3" fill="none" stroke="#dde1e8" stroke-width="1"/><polyline points="1139.0,695.6 1177.6,714.9 1181.4,724.5 1216.2,736.1" fill="none" stroke="#dde1e8" stroke-width="1"/><polyline points="1262.5,649.3 1235.5,711.0 1216.2,761.0" fill="none" stroke="#dde1e8" stroke-width="1"/><polyline points="1291.0,624.2 1274.0,643.5 1270.2,761.0" fill="none" stroke="#dde1e8" stroke-width="1"/><polyline points="1235.5,691.7 1258.6,684.0 1291.0,676.3" fill="none" stroke="#dde1e8" stroke-width="1"/><polyline points="683.0,795.9 835.0,803.7" fill="none" stroke="#dde1e8" stroke-width="1"/><polyline points="683.0,881.2 741.2,877.3 835.0,889.0" fill="none" stroke="#dde1e8" stroke-width="1"/><polyline points="731.5,761.0 721.8,946.9" fill="none" stroke="#dde1e8" stroke-width="1"/><polyline points="764.4,761.0 741.2,946.9" fill="none" stroke="#dde1e8" stroke-width="1"/><polyline points="814.8,761.0 783.8,946.9" fill="none" stroke="#dde1e8" stroke-width="1"/><polyline points="683.0,764.9 835.0,768.8" fill="none" stroke="#dde1e8" stroke-width="1"/><polyline points="869.9,761.0 842.8,946.9" fill="none" stroke="#dde1e8" stroke-width="1"/><polyline points="918.4,761.0 899.0,819.2 893.2,946.9" fill="none" stroke="#dde1e8" stroke-width="1"/><polyline points="893.2,848.2 987.0,852.1" fill="none" stroke="#dde1e8" stroke-width="1"/><polyline points="854.4,881.2 987.0,892.8" fill="none" stroke="#dde1e8" stroke-width="1"/><polyline points="864.1,857.9 854.4,946.9" fill="none" stroke="#dde1e8" stroke-width="1"/><polyline points="881.5,861.8 877.7,946.9" fill="none" stroke="#dde1e8" stroke-width="1"/><polyline points="912.5,881.2 908.7,946.9" fill="none" stroke="#dde1e8" stroke-width="1"/><polyline points="835.0,900.6 987.0,908.3" fill="none" stroke="#dde1e8" stroke-width="1"/><polyline points="935.8,857.9 926.1,946.9" fill="none" stroke="#dde1e8" stroke-width="1"/><polyline points="959.1,854.1 939.7,946.9" fill="none" stroke="#dde1e8" stroke-width="1"/><polyline points="987.0,782.3 1139.0,784.3" fill="none" stroke="#dde1e8" stroke-width="1"/><polyline points="987.0,811.4 1049.0,819.2" fill="none" stroke="#dde1e8" stroke-width="1"/><polyline points="1035.5,761.0 1031.6,946.9" fill="none" stroke="#dde1e8" stroke-width="1"/><polyline points="1099.4,761.0 1097.5,844.4 1139.0,846.3" fill="none" stroke="#dde1e8" stroke-width="1"/><polyline points="1002.5,900.6 1049.0,900.6" fill="none" stroke="#dde1e8" stroke-width="1"/><polyline points="1006.4,900.6 1002.5,946.9" fill="none" stroke="#dde1e8" stroke-width="1"/><polyline points="1025.8,900.6 1023.8,946.9" fill="none" stroke="#dde1e8" stroke-width="1"/><polyline points="987.0,931.6 1064.5,935.5" fill="none" stroke="#dde1e8" stroke-width="1"/><polyline points="1111.1,761.0 1107.2,946.9" fill="none" stroke="#dde1e8" stroke-width="1"/><polyline points="1122.7,842.4 1139.0,854.1" fill="none" stroke="#dde1e8" stroke-width="1"/><polyline points="1139.0,825.0 1220.4,828.9 1224.3,834.7 1201.0,861.8 1216.5,881.2 1247.6,854.1" fill="none" stroke="#dde1e8" stroke-width="1"/><polyline points="1216.5,772.6 1197.2,857.9" fill="none" stroke="#dde1e8" stroke-width="1"/><polyline points="1139.0,790.1 1162.3,794.0" fill="none" stroke="#dde1e8" stroke-width="1"/><polyline points="1139.0,834.7 1168.1,834.7" fill="none" stroke="#dde1e8" stroke-width="1"/><polyline points="1139.0,846.3 1168.1,846.3" fill="none" stroke="#dde1e8" stroke-width="1"/><polyline points="1278.6,761.0 1274.7,799.8 1247.6,846.3 1222.4,946.9" fill="none" stroke="#dde1e8" stroke-width="1"/><polyline points="1255.3,848.2 1291.0,861.8" fill="none" stroke="#dde1e8" stroke-width="1"/><polyline points="1177.8,896.7 1170.0,946.9" fill="none" stroke="#dde1e8" stroke-width="1"/><polyline points="1247.6,869.6 1239.8,946.9" fill="none" stroke="#dde1e8" stroke-width="1"/><polyline points="1259.2,892.8 1290.2,896.7" fill="none" stroke="#dde1e8" stroke-width="1"/><polyline points="1220.4,885.1 1291.0,916.1" fill="none" stroke="#dde1e8" stroke-width="1"/><polyline points="694.6,612.7 697.5,630.0 694.6,649.3 690.7,664.7 683.0,682.1" fill="none" stroke="#9cdbf0" stroke-width="1.2" stroke-linejoin="round"/><polyline points="702.3,612.7 694.6,626.2" fill="none" stroke="#9cdbf0" stroke-width="1.2" stroke-linejoin="round"/><polyline points="723.5,612.7 733.2,630.0 732.2,657.0 727.4,676.3 721.6,699.5 723.5,711.0 718.7,726.5 716.8,743.8 719.7,761.0" fill="none" stroke="#9cdbf0" stroke-width="1.2" stroke-linejoin="round"/><polyline points="710.0,648.3 733.2,648.9" fill="none" stroke="#9cdbf0" stroke-width="1.2" stroke-linejoin="round"/><polyline points="694.6,628.1 733.2,630.0" fill="none" stroke="#9cdbf0" stroke-width="1.2" stroke-linejoin="round"/><polyline points="750.5,666.7 752.4,680.2 762.1,699.5 756.3,714.9 754.4,730.3 760.2,740.0 750.5,761.0" fill="none" stroke="#9cdbf0" stroke-width="1.2" stroke-linejoin="round"/><polyline points="765.9,612.7 762.1,633.9 765.9,657.0 777.5,672.5 779.5,691.7 771.7,711.0 760.2,732.2 748.6,749.6" fill="none" stroke="#9cdbf0" stroke-width="1.2" stroke-linejoin="round"/><polyline points="793.0,612.7 779.5,631.9 783.3,649.3 791.0,666.7 787.2,691.7 783.3,711.0 785.2,730.3 781.4,761.0" fill="none" stroke="#9cdbf0" stroke-width="1.2" stroke-linejoin="round"/><polyline points="806.5,612.7 798.7,643.5 796.8,676.3 791.0,691.7 783.3,711.0" fill="none" stroke="#9cdbf0" stroke-width="1.2" stroke-linejoin="round"/><polyline points="821.9,612.7 818.0,633.9 818.0,658.9 823.8,684.0 818.0,699.5 810.3,716.8 806.5,728.4 798.7,730.3 794.9,749.6 798.7,761.0" fill="none" stroke="#9cdbf0" stroke-width="1.2" stroke-linejoin="round"/><polyline points="833.5,653.2 825.7,684.0 823.8,707.2" fill="none" stroke="#9cdbf0" stroke-width="1.2" stroke-linejoin="round"/><polyline points="683.0,587.6 686.9,579.9" fill="none" stroke="#9cdbf0" stroke-width="1.2" stroke-linejoin="round"/><polyline points="740.9,576.0 746.7,581.8" fill="none" stroke="#9cdbf0" stroke-width="1.2" stroke-linejoin="round"/><polyline points="779.5,576.0 783.3,582.8" fill="none" stroke="#9cdbf0" stroke-width="1.2" stroke-linejoin="round"/><polyline points="835.0,624.2 842.7,614.6 846.6,601.1 842.7,576.0" fill="none" stroke="#9cdbf0" stroke-width="1.2" stroke-linejoin="round"/><polyline points="869.7,576.0 862.0,614.6 858.1,633.9 856.2,653.2 850.4,676.3 840.8,691.7 838.9,711.0 842.7,730.3 846.6,761.0" fill="none" stroke="#9cdbf0" stroke-width="1.2" stroke-linejoin="round"/><polyline points="875.5,581.8 879.4,599.1 889.0,614.6 885.2,628.1 881.3,649.3 873.6,666.7 865.9,684.0 865.9,701.4 858.1,722.6 848.5,743.8" fill="none" stroke="#9cdbf0" stroke-width="1.2" stroke-linejoin="round"/><polyline points="898.7,576.0 894.8,595.3 904.4,603.0 900.6,624.2 906.4,643.5 904.4,662.8 896.7,687.9 883.2,707.2 873.6,726.5 863.9,749.6" fill="none" stroke="#9cdbf0" stroke-width="1.2" stroke-linejoin="round"/><polyline points="916.0,576.0 908.3,595.3 912.2,614.6 917.9,633.9 916.0,657.0 919.9,676.3 912.2,699.5 902.5,718.7 892.9,741.9 889.0,761.0" fill="none" stroke="#9cdbf0" stroke-width="1.2" stroke-linejoin="round"/><polyline points="925.7,576.0 927.6,591.4 917.9,601.1" fill="none" stroke="#9cdbf0" stroke-width="1.2" stroke-linejoin="round"/><polyline points="970.0,576.0 958.5,595.3 950.7,614.6 952.7,633.9" fill="none" stroke="#9cdbf0" stroke-width="1.2" stroke-linejoin="round"/><polyline points="985.5,589.5 970.0,606.9 968.1,626.2 954.6,637.7" fill="none" stroke="#9cdbf0" stroke-width="1.2" stroke-linejoin="round"/><polyline points="987.0,676.3 970.0,699.5 954.6,714.9 935.3,730.3 919.9,745.8" fill="none" stroke="#9cdbf0" stroke-width="1.2" stroke-linejoin="round"/><polyline points="931.5,658.9 943.0,672.5 950.7,684.0" fill="none" stroke="#9cdbf0" stroke-width="1.2" stroke-linejoin="round"/><polyline points="931.5,684.0 925.7,711.0 916.0,730.3 908.3,749.6" fill="none" stroke="#9cdbf0" stroke-width="1.2" stroke-linejoin="round"/><polyline points="1066.1,576.0 1068.0,604.9 1073.8,626.2 1077.7,649.3 1081.5,672.5 1079.6,695.6 1073.8,718.7 1069.9,741.7" fill="none" stroke="#9cdbf0" stroke-width="1.2" stroke-linejoin="round"/><polyline points="1050.7,591.4 1056.4,614.6 1054.5,633.9" fill="none" stroke="#9cdbf0" stroke-width="1.2" stroke-linejoin="round"/><polyline points="1095.0,576.0 1097.0,599.1 1091.2,614.6 1102.7,633.9 1125.9,622.3 1139.0,610.7" fill="none" stroke="#9cdbf0" stroke-width="1.2" stroke-linejoin="round"/><polyline points="1102.7,643.5 1095.0,662.8 1098.9,684.0 1089.2,699.5 1087.3,720.7 1079.6,741.9 1073.8,761.0" fill="none" stroke="#9cdbf0" stroke-width="1.2" stroke-linejoin="round"/><polyline points="1139.0,639.7 1122.0,653.2 1110.5,676.3 1095.0,695.6" fill="none" stroke="#9cdbf0" stroke-width="1.2" stroke-linejoin="round"/><polyline points="1139.0,668.6 1112.4,684.0 1095.0,711.0 1087.3,730.3" fill="none" stroke="#9cdbf0" stroke-width="1.2" stroke-linejoin="round"/><polyline points="1015.9,576.0 1014.0,604.9 1002.4,633.9 992.8,653.2" fill="none" stroke="#9cdbf0" stroke-width="1.2" stroke-linejoin="round"/><polyline points="1035.2,649.3 1037.2,672.5 1031.4,699.5 1021.7,720.7 1012.1,761.0" fill="none" stroke="#9cdbf0" stroke-width="1.2" stroke-linejoin="round"/><polyline points="1139.0,595.3 1158.3,587.6 1171.8,576.0" fill="none" stroke="#9cdbf0" stroke-width="1.2" stroke-linejoin="round"/><polyline points="1139.0,641.6 1154.4,633.9 1177.6,622.3 1196.9,601.1 1212.3,576.0" fill="none" stroke="#9cdbf0" stroke-width="1.2" stroke-linejoin="round"/><polyline points="1139.0,672.5 1150.6,657.0 1162.1,653.2 1177.6,645.4 1187.2,649.3 1194.9,631.9 1216.2,618.4 1229.7,606.9" fill="none" stroke="#9cdbf0" stroke-width="1.2" stroke-linejoin="round"/><polyline points="1191.1,633.9 1206.5,624.2 1220.0,626.2 1235.5,614.6 1245.1,603.0" fill="none" stroke="#9cdbf0" stroke-width="1.2" stroke-linejoin="round"/><polyline points="1139.0,718.7 1150.6,699.5 1177.6,680.2 1196.9,664.7 1223.9,645.4 1247.0,628.1" fill="none" stroke="#9cdbf0" stroke-width="1.2" stroke-linejoin="round"/><polyline points="1181.4,722.6 1183.4,701.4 1193.0,676.3 1200.7,662.8" fill="none" stroke="#9cdbf0" stroke-width="1.2" stroke-linejoin="round"/><polyline points="1162.1,761.0 1177.6,730.3 1189.2,714.9 1206.5,703.3 1221.9,684.0 1247.0,660.9 1262.5,643.5 1277.9,628.1 1291.0,610.7" fill="none" stroke="#9cdbf0" stroke-width="1.2" stroke-linejoin="round"/><polyline points="1221.9,664.7 1221.9,684.0" fill="none" stroke="#9cdbf0" stroke-width="1.2" stroke-linejoin="round"/><polyline points="1202.7,761.0 1220.0,736.1 1229.7,741.9" fill="none" stroke="#9cdbf0" stroke-width="1.2" stroke-linejoin="round"/><polyline points="1220.0,761.0 1235.5,745.8 1247.0,726.5 1254.7,711.0 1260.5,684.0 1262.5,660.9" fill="none" stroke="#9cdbf0" stroke-width="1.2" stroke-linejoin="round"/><polyline points="1247.0,726.5 1262.5,718.7 1277.9,711.0 1285.6,687.9" fill="none" stroke="#9cdbf0" stroke-width="1.2" stroke-linejoin="round"/><polyline points="1272.1,678.2 1277.9,664.7 1281.7,647.4" fill="none" stroke="#9cdbf0" stroke-width="1.2" stroke-linejoin="round"/><polyline points="1235.5,761.0 1247.0,749.6 1258.6,734.2" fill="none" stroke="#9cdbf0" stroke-width="1.2" stroke-linejoin="round"/><polyline points="1254.7,639.7 1258.6,624.2 1264.4,614.6 1291.0,599.1" fill="none" stroke="#9cdbf0" stroke-width="1.2" stroke-linejoin="round"/><polyline points="714.0,761.0 702.4,794.0 700.4,809.5 683.0,830.8" fill="none" stroke="#9cdbf0" stroke-width="1.2" stroke-linejoin="round"/><polyline points="745.0,786.2 743.1,809.5 741.2,819.2 748.9,834.7 754.7,844.4 752.8,852.1 760.5,856.0 752.8,865.7 745.0,869.6 739.2,885.1 737.3,896.7 747.0,900.6 756.7,896.7 760.5,906.4 776.1,900.6 791.6,889.0 818.7,861.8 835.0,852.1" fill="none" stroke="#9cdbf0" stroke-width="1.2" stroke-linejoin="round"/><polyline points="778.0,761.0 766.4,795.9 764.4,809.5 756.7,823.0 754.7,836.6" fill="none" stroke="#9cdbf0" stroke-width="1.2" stroke-linejoin="round"/><polyline points="801.3,764.9 797.4,776.5 799.3,790.1 789.6,799.8 774.1,826.9" fill="none" stroke="#9cdbf0" stroke-width="1.2" stroke-linejoin="round"/><polyline points="822.6,761.0 807.1,795.9 795.4,819.2" fill="none" stroke="#9cdbf0" stroke-width="1.2" stroke-linejoin="round"/><polyline points="830.3,774.6 826.5,792.0 828.4,805.6 818.7,811.4 814.8,825.0 799.3,834.7 791.6,848.2 779.9,854.1 781.9,865.7 779.9,877.3 766.4,896.7 756.7,908.3 741.2,916.1 725.7,929.7 714.0,946.9" fill="none" stroke="#9cdbf0" stroke-width="1.2" stroke-linejoin="round"/><polyline points="835.0,832.7 824.5,857.9 812.9,883.1" fill="none" stroke="#9cdbf0" stroke-width="1.2" stroke-linejoin="round"/><polyline points="835.0,892.8 824.5,916.1 816.8,927.7 791.6,923.9 779.9,935.5 774.1,946.9" fill="none" stroke="#9cdbf0" stroke-width="1.2" stroke-linejoin="round"/><polyline points="737.3,896.7 729.5,916.1 721.8,931.6" fill="none" stroke="#9cdbf0" stroke-width="1.2" stroke-linejoin="round"/><polyline points="848.6,772.6 846.6,799.8 835.0,819.2" fill="none" stroke="#9cdbf0" stroke-width="1.2" stroke-linejoin="round"/><polyline points="893.2,761.0 885.4,780.4 879.6,799.8 877.7,817.2 869.9,825.0 860.2,844.4 846.6,852.1 835.0,857.9" fill="none" stroke="#9cdbf0" stroke-width="1.2" stroke-linejoin="round"/><polyline points="887.3,761.0 881.5,788.1 869.9,815.3 854.4,838.5 842.8,869.6 835.0,896.7" fill="none" stroke="#9cdbf0" stroke-width="1.2" stroke-linejoin="round"/><polyline points="939.7,786.2 943.6,809.5 935.8,828.9 928.1,850.2 920.3,873.4 916.4,896.7 912.5,921.9 908.7,946.9" fill="none" stroke="#9cdbf0" stroke-width="1.2" stroke-linejoin="round"/><polyline points="987.0,852.1 974.6,865.7 968.8,896.7 955.2,927.7 951.3,946.9" fill="none" stroke="#9cdbf0" stroke-width="1.2" stroke-linejoin="round"/><polyline points="1006.4,761.0 1002.5,780.4 990.9,799.8" fill="none" stroke="#9cdbf0" stroke-width="1.2" stroke-linejoin="round"/><polyline points="1025.8,761.0 1021.9,780.4 1014.1,799.8 1002.5,828.9 992.8,857.9" fill="none" stroke="#9cdbf0" stroke-width="1.2" stroke-linejoin="round"/><polyline points="1045.2,761.0 1041.3,784.3 1037.4,819.2 1025.8,838.5 1014.1,857.9 1002.5,887.0 998.6,916.1 994.8,946.9" fill="none" stroke="#9cdbf0" stroke-width="1.2" stroke-linejoin="round"/><polyline points="1076.2,790.1 1087.8,799.8 1078.1,811.4 1087.8,819.2 1080.1,828.9 1083.9,842.4 1087.8,854.1 1083.9,869.6 1099.4,892.8 1103.3,916.1 1097.5,935.5" fill="none" stroke="#9cdbf0" stroke-width="1.2" stroke-linejoin="round"/><polyline points="1115.0,846.3 1118.8,869.6 1113.0,896.7 1122.7,916.1" fill="none" stroke="#9cdbf0" stroke-width="1.2" stroke-linejoin="round"/><polyline points="1139.0,809.5 1126.6,823.0 1120.8,838.5" fill="none" stroke="#9cdbf0" stroke-width="1.2" stroke-linejoin="round"/><polyline points="1052.9,857.9 1056.8,887.0 1052.9,908.3 1060.7,925.8" fill="none" stroke="#9cdbf0" stroke-width="1.2" stroke-linejoin="round"/><polyline points="1025.8,869.6 1018.0,892.8 1010.3,916.1 1006.4,946.9" fill="none" stroke="#9cdbf0" stroke-width="1.2" stroke-linejoin="round"/><polyline points="1150.6,761.0 1154.5,790.1 1146.8,809.5 1139.0,815.3" fill="none" stroke="#9cdbf0" stroke-width="1.2" stroke-linejoin="round"/><polyline points="1199.1,761.0 1191.3,790.1 1177.8,819.2 1181.7,842.4 1177.8,857.9" fill="none" stroke="#9cdbf0" stroke-width="1.2" stroke-linejoin="round"/><polyline points="1235.9,761.0 1239.8,784.3 1235.9,803.7 1226.2,801.7 1216.5,815.3 1220.4,834.7 1204.9,846.3 1204.9,857.9" fill="none" stroke="#9cdbf0" stroke-width="1.2" stroke-linejoin="round"/><polyline points="1263.1,761.0 1261.1,772.6" fill="none" stroke="#9cdbf0" stroke-width="1.2" stroke-linejoin="round"/><polyline points="1259.2,782.3 1251.4,799.8 1249.5,813.3 1245.6,823.0" fill="none" stroke="#9cdbf0" stroke-width="1.2" stroke-linejoin="round"/><polyline points="1230.1,844.4 1212.7,857.9 1195.2,861.8 1177.8,869.6 1175.8,881.2 1154.5,889.0 1139.0,894.8" fill="none" stroke="#9cdbf0" stroke-width="1.2" stroke-linejoin="round"/><polyline points="1154.5,889.0 1152.6,906.4 1146.8,923.9 1139.0,929.7" fill="none" stroke="#9cdbf0" stroke-width="1.2" stroke-linejoin="round"/><polyline points="1255.3,861.8 1263.1,869.6 1259.2,885.1 1243.7,902.5 1230.1,916.1 1226.2,929.7 1212.7,931.6 1197.2,931.6" fill="none" stroke="#9cdbf0" stroke-width="1.2" stroke-linejoin="round"/><polyline points="1191.3,906.4 1195.2,914.2 1187.5,921.9 1183.6,931.6" fill="none" stroke="#9cdbf0" stroke-width="1.2" stroke-linejoin="round"/><polyline points="1210.7,906.4 1201.0,925.8" fill="none" stroke="#9cdbf0" stroke-width="1.2" stroke-linejoin="round"/><polyline points="683.0,831.8 721.8,829.9 776.1,844.4 770.3,871.6 799.4,877.4 824.6,904.5 877.0,922.0 935.2,943.4 960.0,950.0" fill="none" stroke="#c9ced8" stroke-width="2.4"/><polyline points="1011.0,577.0 1016.0,588.0 1002.0,615.0 985.0,645.0" fill="none" stroke="#c9ced8" stroke-width="2.4"/><polyline points="1002.0,690.0 996.0,720.0 992.0,760.0 985.0,850.0 976.0,947.0" fill="none" stroke="#c9ced8" stroke-width="2.2"/><polyline points="683.0,661.8 708.1,670.5 735.1,676.3 760.2,675.9 825.7,672.5 843.1,664.7 862.4,649.3 885.5,630.0 904.8,631.0 949.2,652.2 962.7,654.1 987.0,672.5 1002.4,691.7" fill="none" stroke="#7d93b6" stroke-width="5.6" stroke-linejoin="round"/><polyline points="683.0,661.8 708.1,670.5 735.1,676.3 760.2,675.9 825.7,672.5 843.1,664.7 862.4,649.3 885.5,630.0 904.8,631.0 949.2,652.2 962.7,654.1 987.0,672.5 1002.4,691.7" fill="none" stroke="#9fb2cf" stroke-width="3" stroke-linejoin="round"/><polyline points="1002.4,691.7 1014.0,639.7 1025.6,612.7 1028.5,609.8 1039.0,613.6 1048.7,622.3 1050.7,668.6 1050.7,695.6 1058.4,720.7 1061.3,761.0 1060.7,805.6 1072.4,852.2 1078.2,877.4 1084.0,896.8 1086.9,912.3 1084.0,935.6 1085.0,950.0" fill="none" stroke="#7d93b6" stroke-width="5.6" stroke-linejoin="round"/><polyline points="1002.4,691.7 1014.0,639.7 1025.6,612.7 1028.5,609.8 1039.0,613.6 1048.7,622.3 1050.7,668.6 1050.7,695.6 1058.4,720.7 1061.3,761.0 1060.7,805.6 1072.4,852.2 1078.2,877.4 1084.0,896.8 1086.9,912.3 1084.0,935.6 1085.0,950.0" fill="none" stroke="#9fb2cf" stroke-width="3" stroke-linejoin="round"/><path d="M755.7 670.7l4 -1.3 4 1.3 0.8 5 -0.8 5 -4 1.3 -4 -1.3 -0.8 -5z" fill="#fff" stroke="#666" stroke-width="0.8"/><path d="M755.7 670.7l4 -1.3 4 1.3 0.5 2.2h-9z" fill="#e04040"/><text x="759.7" y="679.2" font-size="7" fill="#444" text-anchor="middle">3</text><path d="M857.4 645.7l4 -1.3 4 1.3 0.8 5 -0.8 5 -4 1.3 -4 -1.3 -0.8 -5z" fill="#fff" stroke="#666" stroke-width="0.8"/><path d="M857.4 645.7l4 -1.3 4 1.3 0.5 2.2h-9z" fill="#e04040"/><text x="861.4" y="654.2" font-size="7" fill="#444" text-anchor="middle">3</text><path d="M1076.0 882.0l4 -1.3 4 1.3 0.8 5 -0.8 5 -4 1.3 -4 -1.3 -0.8 -5z" fill="#fff" stroke="#666" stroke-width="0.8"/><path d="M1076.0 882.0l4 -1.3 4 1.3 0.5 2.2h-9z" fill="#e04040"/><text x="1080.0" y="890.5" font-size="7" fill="#444" text-anchor="middle">3</text><path d="M1008.50 650.60A4.10 4.10 0 1 1 1016.70 650.60C1016.70 653.20 1014.00 655.20 1012.60 658.80C1011.20 655.20 1008.50 653.20 1008.50 650.60Z" fill="#0b2491" stroke="rgba(255,255,255,0.45)" stroke-width="0.6"/><path d="M963.50 651.90A4.10 4.10 0 1 1 971.70 651.90C971.70 654.50 969.00 656.50 967.60 660.10C966.20 656.50 963.50 654.50 963.50 651.90Z" fill="#0b2491" stroke="rgba(255,255,255,0.45)" stroke-width="0.6"/><path d="M1007.50 653.80A4.10 4.10 0 1 1 1015.70 653.80C1015.70 656.40 1013.00 658.40 1011.60 662.00C1010.20 658.40 1007.50 656.40 1007.50 653.80Z" fill="#0b2491" stroke="rgba(255,255,255,0.45)" stroke-width="0.6"/><path d="M970.80 657.50A4.10 4.10 0 1 1 979.00 657.50C979.00 660.10 976.30 662.10 974.90 665.70C973.50 662.10 970.80 660.10 970.80 657.50Z" fill="#0b2491" stroke="rgba(255,255,255,0.45)" stroke-width="0.6"/><path d="M1005.80 661.30A4.10 4.10 0 1 1 1014.00 661.30C1014.00 663.90 1011.30 665.90 1009.90 669.50C1008.50 665.90 1005.80 663.90 1005.80 661.30Z" fill="#0b2491" stroke="rgba(255,255,255,0.45)" stroke-width="0.6"/><path d="M988.50 663.10A4.10 4.10 0 1 1 996.70 663.10C996.70 665.70 994.00 667.70 992.60 671.30C991.20 667.70 988.50 665.70 988.50 663.10Z" fill="#0b2491" stroke="rgba(255,255,255,0.45)" stroke-width="0.6"/><path d="M1004.50 665.60A4.10 4.10 0 1 1 1012.70 665.60C1012.70 668.20 1010.00 670.20 1008.60 673.80C1007.20 670.20 1004.50 668.20 1004.50 665.60Z" fill="#0b2491" stroke="rgba(255,255,255,0.45)" stroke-width="0.6"/><path d="M989.50 670.00A4.10 4.10 0 1 1 997.70 670.00C997.70 672.60 995.00 674.60 993.60 678.20C992.20 674.60 989.50 672.60 989.50 670.00Z" fill="#0b2491" stroke="rgba(255,255,255,0.45)" stroke-width="0.6"/><path d="M1002.90 676.30A4.10 4.10 0 1 1 1011.10 676.30C1011.10 678.90 1008.40 680.90 1007.00 684.50C1005.60 680.90 1002.90 678.90 1002.90 676.30Z" fill="#0b2491" stroke="rgba(255,255,255,0.45)" stroke-width="0.6"/><path d="M996.00 677.50A4.10 4.10 0 1 1 1004.20 677.50C1004.20 680.10 1001.50 682.10 1000.10 685.70C998.70 682.10 996.00 680.10 996.00 677.50Z" fill="#0b2491" stroke="rgba(255,255,255,0.45)" stroke-width="0.6"/><path d="M1011.00 679.40A4.10 4.10 0 1 1 1019.20 679.40C1019.20 682.00 1016.50 684.00 1015.10 687.60C1013.70 684.00 1011.00 682.00 1011.00 679.40Z" fill="#0b2491" stroke="rgba(255,255,255,0.45)" stroke-width="0.6"/><path d="M1002.90 681.30A4.10 4.10 0 1 1 1011.10 681.30C1011.10 683.90 1008.40 685.90 1007.00 689.50C1005.60 685.90 1002.90 683.90 1002.90 681.30Z" fill="#0b2491" stroke="rgba(255,255,255,0.45)" stroke-width="0.6"/><path d="M963.70 683.20A4.10 4.10 0 1 1 971.90 683.20C971.90 685.80 969.20 687.80 967.80 691.40C966.40 687.80 963.70 685.80 963.70 683.20Z" fill="#0b2491" stroke="rgba(255,255,255,0.45)" stroke-width="0.6"/><path d="M998.50 684.40A4.10 4.10 0 1 1 1006.70 684.40C1006.70 687.00 1004.00 689.00 1002.60 692.60C1001.20 689.00 998.50 687.00 998.50 684.40Z" fill="#0b2491" stroke="rgba(255,255,255,0.45)" stroke-width="0.6"/><path d="M959.50 690.00A4.10 4.10 0 1 1 967.70 690.00C967.70 692.60 965.00 694.60 963.60 698.20C962.20 694.60 959.50 692.60 959.50 690.00Z" fill="#0b2491" stroke="rgba(255,255,255,0.45)" stroke-width="0.6"/><path d="M1071.90 694.10A4.10 4.10 0 1 1 1080.10 694.10C1080.10 696.70 1077.40 698.70 1076.00 702.30C1074.60 698.70 1071.90 696.70 1071.90 694.10Z" fill="#0b2491" stroke="rgba(255,255,255,0.45)" stroke-width="0.6"/><path d="M910.90 694.80A4.10 4.10 0 1 1 919.10 694.80C919.10 697.40 916.40 699.40 915.00 703.00C913.60 699.40 910.90 697.40 910.90 694.80Z" fill="#0b2491" stroke="rgba(255,255,255,0.45)" stroke-width="0.6"/><path d="M993.30 709.50A4.10 4.10 0 1 1 1001.50 709.50C1001.50 712.10 998.80 714.10 997.40 717.70C996.00 714.10 993.30 712.10 993.30 709.50Z" fill="#0b2491" stroke="rgba(255,255,255,0.45)" stroke-width="0.6"/><path d="M1038.40 710.00A4.10 4.10 0 1 1 1046.60 710.00C1046.60 712.60 1043.90 714.60 1042.50 718.20C1041.10 714.60 1038.40 712.60 1038.40 710.00Z" fill="#0b2491" stroke="rgba(255,255,255,0.45)" stroke-width="0.6"/><path d="M990.80 715.10A4.10 4.10 0 1 1 999.00 715.10C999.00 717.70 996.30 719.70 994.90 723.30C993.50 719.70 990.80 717.70 990.80 715.10Z" fill="#0b2491" stroke="rgba(255,255,255,0.45)" stroke-width="0.6"/><path d="M1062.50 723.60A4.10 4.10 0 1 1 1070.70 723.60C1070.70 726.20 1068.00 728.20 1066.60 731.80C1065.20 728.20 1062.50 726.20 1062.50 723.60Z" fill="#0b2491" stroke="rgba(255,255,255,0.45)" stroke-width="0.6"/><path d="M900.70 730.10A4.10 4.10 0 1 1 908.90 730.10C908.90 732.70 906.20 734.70 904.80 738.30C903.40 734.70 900.70 732.70 900.70 730.10Z" fill="#0b2491" stroke="rgba(255,255,255,0.45)" stroke-width="0.6"/><path d="M981.60 735.10A4.10 4.10 0 1 1 989.80 735.10C989.80 737.70 987.10 739.70 985.70 743.30C984.30 739.70 981.60 737.70 981.60 735.10Z" fill="#0b2491" stroke="rgba(255,255,255,0.45)" stroke-width="0.6"/><path d="M922.40 740.10A4.10 4.10 0 1 1 930.60 740.10C930.60 742.70 927.90 744.70 926.50 748.30C925.10 744.70 922.40 742.70 922.40 740.10Z" fill="#0b2491" stroke="rgba(255,255,255,0.45)" stroke-width="0.6"/><path d="M990.40 742.60A4.10 4.10 0 1 1 998.60 742.60C998.60 745.20 995.90 747.20 994.50 750.80C993.10 747.20 990.40 745.20 990.40 742.60Z" fill="#0b2491" stroke="rgba(255,255,255,0.45)" stroke-width="0.6"/><path d="M892.80 743.30A4.10 4.10 0 1 1 901.00 743.30C901.00 745.90 898.30 747.90 896.90 751.50C895.50 747.90 892.80 745.90 892.80 743.30Z" fill="#0b2491" stroke="rgba(255,255,255,0.45)" stroke-width="0.6"/><path d="M984.80 745.10A4.10 4.10 0 1 1 993.00 745.10C993.00 747.70 990.30 749.70 988.90 753.30C987.50 749.70 984.80 747.70 984.80 745.10Z" fill="#0b2491" stroke="rgba(255,255,255,0.45)" stroke-width="0.6"/><path d="M991.00 748.90A4.10 4.10 0 1 1 999.20 748.90C999.20 751.50 996.50 753.50 995.10 757.10C993.70 753.50 991.00 751.50 991.00 748.90Z" fill="#0b2491" stroke="rgba(255,255,255,0.45)" stroke-width="0.6"/><path d="M1011.70 750.80A4.10 4.10 0 1 1 1019.90 750.80C1019.90 753.40 1017.20 755.40 1015.80 759.00C1014.40 755.40 1011.70 753.40 1011.70 750.80Z" fill="#0b2491" stroke="rgba(255,255,255,0.45)" stroke-width="0.6"/><path d="M986.60 753.90A4.10 4.10 0 1 1 994.80 753.90C994.80 756.50 992.10 758.50 990.70 762.10C989.30 758.50 986.60 756.50 986.60 753.90Z" fill="#0b2491" stroke="rgba(255,255,255,0.45)" stroke-width="0.6"/><path d="M977.80 762.50A4.10 4.10 0 1 1 986.00 762.50C986.00 765.10 983.30 767.10 981.90 770.70C980.50 767.10 977.80 765.10 977.80 762.50Z" fill="#0b2491" stroke="rgba(255,255,255,0.45)" stroke-width="0.6"/><path d="M977.20 768.80A4.10 4.10 0 1 1 985.40 768.80C985.40 771.40 982.70 773.40 981.30 777.00C979.90 773.40 977.20 771.40 977.20 768.80Z" fill="#0b2491" stroke="rgba(255,255,255,0.45)" stroke-width="0.6"/><path d="M916.50 770.60A4.10 4.10 0 1 1 924.70 770.60C924.70 773.20 922.00 775.20 920.60 778.80C919.20 775.20 916.50 773.20 916.50 770.60Z" fill="#0b2491" stroke="rgba(255,255,255,0.45)" stroke-width="0.6"/><path d="M1010.90 771.90A4.10 4.10 0 1 1 1019.10 771.90C1019.10 774.50 1016.40 776.50 1015.00 780.10C1013.60 776.50 1010.90 774.50 1010.90 771.90Z" fill="#0b2491" stroke="rgba(255,255,255,0.45)" stroke-width="0.6"/><path d="M1068.50 772.00A4.10 4.10 0 1 1 1076.70 772.00C1076.70 774.60 1074.00 776.60 1072.60 780.20C1071.20 776.60 1068.50 774.60 1068.50 772.00Z" fill="#0b2491" stroke="rgba(255,255,255,0.45)" stroke-width="0.6"/><path d="M982.80 772.50A4.10 4.10 0 1 1 991.00 772.50C991.00 775.10 988.30 777.10 986.90 780.70C985.50 777.10 982.80 775.10 982.80 772.50Z" fill="#0b2491" stroke="rgba(255,255,255,0.45)" stroke-width="0.6"/><path d="M990.30 772.50A4.10 4.10 0 1 1 998.50 772.50C998.50 775.10 995.80 777.10 994.40 780.70C993.00 777.10 990.30 775.10 990.30 772.50Z" fill="#0b2491" stroke="rgba(255,255,255,0.45)" stroke-width="0.6"/><path d="M927.20 773.10A4.10 4.10 0 1 1 935.40 773.10C935.40 775.70 932.70 777.70 931.30 781.30C929.90 777.70 927.20 775.70 927.20 773.10Z" fill="#0b2491" stroke="rgba(255,255,255,0.45)" stroke-width="0.6"/><path d="M902.20 774.40A4.10 4.10 0 1 1 910.40 774.40C910.40 777.00 907.70 779.00 906.30 782.60C904.90 779.00 902.20 777.00 902.20 774.40Z" fill="#0b2491" stroke="rgba(255,255,255,0.45)" stroke-width="0.6"/><path d="M974.00 775.00A4.10 4.10 0 1 1 982.20 775.00C982.20 777.60 979.50 779.60 978.10 783.20C976.70 779.60 974.00 777.60 974.00 775.00Z" fill="#0b2491" stroke="rgba(255,255,255,0.45)" stroke-width="0.6"/><path d="M914.70 778.80A4.10 4.10 0 1 1 922.90 778.80C922.90 781.40 920.20 783.40 918.80 787.00C917.40 783.40 914.70 781.40 914.70 778.80Z" fill="#0b2491" stroke="rgba(255,255,255,0.45)" stroke-width="0.6"/><path d="M973.40 781.30A4.10 4.10 0 1 1 981.60 781.30C981.60 783.90 978.90 785.90 977.50 789.50C976.10 785.90 973.40 783.90 973.40 781.30Z" fill="#0b2491" stroke="rgba(255,255,255,0.45)" stroke-width="0.6"/><path d="M928.40 782.50A4.10 4.10 0 1 1 936.60 782.50C936.60 785.10 933.90 787.10 932.50 790.70C931.10 787.10 928.40 785.10 928.40 782.50Z" fill="#0b2491" stroke="rgba(255,255,255,0.45)" stroke-width="0.6"/><path d="M899.00 783.10A4.10 4.10 0 1 1 907.20 783.10C907.20 785.70 904.50 787.70 903.10 791.30C901.70 787.70 899.00 785.70 899.00 783.10Z" fill="#0b2491" stroke="rgba(255,255,255,0.45)" stroke-width="0.6"/><path d="M1066.20 786.10A4.10 4.10 0 1 1 1074.40 786.10C1074.40 788.70 1071.70 790.70 1070.30 794.30C1068.90 790.70 1066.20 788.70 1066.20 786.10Z" fill="#0b2491" stroke="rgba(255,255,255,0.45)" stroke-width="0.6"/><path d="M1071.50 786.10A4.10 4.10 0 1 1 1079.70 786.10C1079.70 788.70 1077.00 790.70 1075.60 794.30C1074.20 790.70 1071.50 788.70 1071.50 786.10Z" fill="#0b2491" stroke="rgba(255,255,255,0.45)" stroke-width="0.6"/><path d="M924.70 789.40A4.10 4.10 0 1 1 932.90 789.40C932.90 792.00 930.20 794.00 928.80 797.60C927.40 794.00 924.70 792.00 924.70 789.40Z" fill="#0b2491" stroke="rgba(255,255,255,0.45)" stroke-width="0.6"/><path d="M969.70 790.00A4.10 4.10 0 1 1 977.90 790.00C977.90 792.60 975.20 794.60 973.80 798.20C972.40 794.60 969.70 792.60 969.70 790.00Z" fill="#0b2491" stroke="rgba(255,255,255,0.45)" stroke-width="0.6"/><path d="M897.20 793.10A4.10 4.10 0 1 1 905.40 793.10C905.40 795.70 902.70 797.70 901.30 801.30C899.90 797.70 897.20 795.70 897.20 793.10Z" fill="#0b2491" stroke="rgba(255,255,255,0.45)" stroke-width="0.6"/><path d="M968.40 793.10A4.10 4.10 0 1 1 976.60 793.10C976.60 795.70 973.90 797.70 972.50 801.30C971.10 797.70 968.40 795.70 968.40 793.10Z" fill="#0b2491" stroke="rgba(255,255,255,0.45)" stroke-width="0.6"/><path d="M912.80 793.80A4.10 4.10 0 1 1 921.00 793.80C921.00 796.40 918.30 798.40 916.90 802.00C915.50 798.40 912.80 796.40 912.80 793.80Z" fill="#0b2491" stroke="rgba(255,255,255,0.45)" stroke-width="0.6"/><path d="M1053.50 799.20A4.10 4.10 0 1 1 1061.70 799.20C1061.70 801.80 1059.00 803.80 1057.60 807.40C1056.20 803.80 1053.50 801.80 1053.50 799.20Z" fill="#0b2491" stroke="rgba(255,255,255,0.45)" stroke-width="0.6"/><path d="M896.50 799.40A4.10 4.10 0 1 1 904.70 799.40C904.70 802.00 902.00 804.00 900.60 807.60C899.20 804.00 896.50 802.00 896.50 799.40Z" fill="#0b2491" stroke="rgba(255,255,255,0.45)" stroke-width="0.6"/><path d="M902.20 799.40A4.10 4.10 0 1 1 910.40 799.40C910.40 802.00 907.70 804.00 906.30 807.60C904.90 804.00 902.20 802.00 902.20 799.40Z" fill="#0b2491" stroke="rgba(255,255,255,0.45)" stroke-width="0.6"/><path d="M965.90 799.40A4.10 4.10 0 1 1 974.10 799.40C974.10 802.00 971.40 804.00 970.00 807.60C968.60 804.00 965.90 802.00 965.90 799.40Z" fill="#0b2491" stroke="rgba(255,255,255,0.45)" stroke-width="0.6"/><path d="M975.30 801.30A4.10 4.10 0 1 1 983.50 801.30C983.50 803.90 980.80 805.90 979.40 809.50C978.00 805.90 975.30 803.90 975.30 801.30Z" fill="#0b2491" stroke="rgba(255,255,255,0.45)" stroke-width="0.6"/><path d="M970.30 801.90A4.10 4.10 0 1 1 978.50 801.90C978.50 804.50 975.80 806.50 974.40 810.10C973.00 806.50 970.30 804.50 970.30 801.90Z" fill="#0b2491" stroke="rgba(255,255,255,0.45)" stroke-width="0.6"/><path d="M1055.30 802.10A4.10 4.10 0 1 1 1063.50 802.10C1063.50 804.70 1060.80 806.70 1059.40 810.30C1058.00 806.70 1055.30 804.70 1055.30 802.10Z" fill="#0b2491" stroke="rgba(255,255,255,0.45)" stroke-width="0.6"/><path d="M910.90 809.40A4.10 4.10 0 1 1 919.10 809.40C919.10 812.00 916.40 814.00 915.00 817.60C913.60 814.00 910.90 812.00 910.90 809.40Z" fill="#0b2491" stroke="rgba(255,255,255,0.45)" stroke-width="0.6"/><path d="M963.40 809.40A4.10 4.10 0 1 1 971.60 809.40C971.60 812.00 968.90 814.00 967.50 817.60C966.10 814.00 963.40 812.00 963.40 809.40Z" fill="#0b2491" stroke="rgba(255,255,255,0.45)" stroke-width="0.6"/><path d="M1050.60 816.20A4.10 4.10 0 1 1 1058.80 816.20C1058.80 818.80 1056.10 820.80 1054.70 824.40C1053.30 820.80 1050.60 818.80 1050.60 816.20Z" fill="#0b2491" stroke="rgba(255,255,255,0.45)" stroke-width="0.6"/><path d="M940.90 818.10A4.10 4.10 0 1 1 949.10 818.10C949.10 820.70 946.40 822.70 945.00 826.30C943.60 822.70 940.90 820.70 940.90 818.10Z" fill="#0b2491" stroke="rgba(255,255,255,0.45)" stroke-width="0.6"/><path d="M1051.60 821.80A4.10 4.10 0 1 1 1059.80 821.80C1059.80 824.40 1057.10 826.40 1055.70 830.00C1054.30 826.40 1051.60 824.40 1051.60 821.80Z" fill="#0b2491" stroke="rgba(255,255,255,0.45)" stroke-width="0.6"/><path d="M1060.20 824.60A4.10 4.10 0 1 1 1068.40 824.60C1068.40 827.20 1065.70 829.20 1064.30 832.80C1062.90 829.20 1060.20 827.20 1060.20 824.60Z" fill="#0b2491" stroke="rgba(255,255,255,0.45)" stroke-width="0.6"/><path d="M959.70 825.00A4.10 4.10 0 1 1 967.90 825.00C967.90 827.60 965.20 829.60 963.80 833.20C962.40 829.60 959.70 827.60 959.70 825.00Z" fill="#0b2491" stroke="rgba(255,255,255,0.45)" stroke-width="0.6"/><path d="M946.50 834.40A4.10 4.10 0 1 1 954.70 834.40C954.70 837.00 952.00 839.00 950.60 842.60C949.20 839.00 946.50 837.00 946.50 834.40Z" fill="#0b2491" stroke="rgba(255,255,255,0.45)" stroke-width="0.6"/><path d="M1042.20 834.90A4.10 4.10 0 1 1 1050.40 834.90C1050.40 837.50 1047.70 839.50 1046.30 843.10C1044.90 839.50 1042.20 837.50 1042.20 834.90Z" fill="#0b2491" stroke="rgba(255,255,255,0.45)" stroke-width="0.6"/><path d="M1039.40 841.50A4.10 4.10 0 1 1 1047.60 841.50C1047.60 844.10 1044.90 846.10 1043.50 849.70C1042.10 846.10 1039.40 844.10 1039.40 841.50Z" fill="#0b2491" stroke="rgba(255,255,255,0.45)" stroke-width="0.6"/><path d="M972.20 841.90A4.10 4.10 0 1 1 980.40 841.90C980.40 844.50 977.70 846.50 976.30 850.10C974.90 846.50 972.20 844.50 972.20 841.90Z" fill="#0b2491" stroke="rgba(255,255,255,0.45)" stroke-width="0.6"/><path d="M943.40 843.10A4.10 4.10 0 1 1 951.60 843.10C951.60 845.70 948.90 847.70 947.50 851.30C946.10 847.70 943.40 845.70 943.40 843.10Z" fill="#0b2491" stroke="rgba(255,255,255,0.45)" stroke-width="0.6"/><path d="M984.00 845.60A4.10 4.10 0 1 1 992.20 845.60C992.20 848.20 989.50 850.20 988.10 853.80C986.70 850.20 984.00 848.20 984.00 845.60Z" fill="#0b2491" stroke="rgba(255,255,255,0.45)" stroke-width="0.6"/><path d="M984.70 853.10A4.10 4.10 0 1 1 992.90 853.10C992.90 855.70 990.20 857.70 988.80 861.30C987.40 857.70 984.70 855.70 984.70 853.10Z" fill="#0b2491" stroke="rgba(255,255,255,0.45)" stroke-width="0.6"/><path d="M995.90 853.10A4.10 4.10 0 1 1 1004.10 853.10C1004.10 855.70 1001.40 857.70 1000.00 861.30C998.60 857.70 995.90 855.70 995.90 853.10Z" fill="#0b2491" stroke="rgba(255,255,255,0.45)" stroke-width="0.6"/><path d="M989.70 854.40A4.10 4.10 0 1 1 997.90 854.40C997.90 857.00 995.20 859.00 993.80 862.60C992.40 859.00 989.70 857.00 989.70 854.40Z" fill="#0b2491" stroke="rgba(255,255,255,0.45)" stroke-width="0.6"/><rect x="690.3" y="583" width="160.7" height="28.5" fill="#fff" rx="2" style="filter:drop-shadow(0 1px 1.5px rgba(0,0,0,0.3))"/><rect x="765" y="583" width="1" height="28.5" fill="#e6e6e6"/><rect x="1254.6" y="583.2" width="28.2" height="28.3" fill="#fff" rx="2" style="filter:drop-shadow(0 1px 1.5px rgba(0,0,0,0.3))"/><path d="M1262 595V590H1266.8M1271.2 590H1276V595M1276 599.5V604.5H1271.2M1266.8 604.5H1262V599.5" fill="none" stroke="#666" stroke-width="2.2"/><circle cx="704.9" cy="848.2" r="14.2" fill="#fff" style="filter:drop-shadow(0 1px 1.5px rgba(0,0,0,0.3))"/><path d="M702.6 843l2.3-2.3 2.3 2.3M702.6 852.6l2.3 2.3 2.3-2.3M700.6 846l-2.3 2.3 2.3 2.3M709.2 846l2.3 2.3-2.3 2.3" fill="none" stroke="#555" stroke-width="1.7"/><rect x="690.3" y="888" width="28.5" height="28.6" fill="#fff" rx="2" style="filter:drop-shadow(0 1px 1.5px rgba(0,0,0,0.3))"/><circle cx="705.6" cy="892.9" r="4.4" fill="#fbb829" stroke="#777" stroke-width="0.4"/><path d="M701.3 897.6h8.6l1.8 4 1.2 5.2-1.4.4-1.6-4.6v11.9h-3.3v-6h-.6v6h-3.2v-11.9l-1.6 4.6-1.4-.4 1.2-5.2z" fill="#fbb829" stroke="#777" stroke-width="0.4"/><path d="M702.8 897.6h5.6l-2.8 4.2z" fill="#e0702a"/><rect x="1072.3" y="935.3" width="218" height="11.5" fill="rgba(255,255,255,0.55)"/></g></svg>
<svg style="left:665.0px;top:513.0px" width="6" height="6"><path d="M4 0h2v6H0V4h4z" fill="#8a8a8a"/></svg>
<svg style="left:1284.0px;top:513.0px" width="6" height="6"><path d="M4 0h2v6H0V4h4z" fill="#8a8a8a"/></svg>
<svg style="left:1903.0px;top:513.0px" width="6" height="6"><path d="M4 0h2v6H0V4h4z" fill="#8a8a8a"/></svg>
<svg style="left:665.0px;top:938.0px" width="6" height="6"><path d="M4 0h2v6H0V4h4z" fill="#8a8a8a"/></svg>
<svg style="left:1284.0px;top:938.0px" width="6" height="6"><path d="M4 0h2v6H0V4h4z" fill="#8a8a8a"/></svg>
<svg style="left:0;top:0" width="1919" height="959"><text x="61.60" y="33.00" font-size="19" fill="#2f2f2f" textLength="106.78" lengthAdjust="spacingAndGlyphs">Admin Sales</text><text x="807.70" y="30.50" font-size="12.5" fill="#5f6368" textLength="114.41" lengthAdjust="spacingAndGlyphs">Search DASHBOARD</text><text x="1887.10" y="30.80" font-size="16" fill="#fff" textLength="8.93" lengthAdjust="spacingAndGlyphs">P</text><text x="70.00" y="79.25" font-size="16" fill="#222" textLength="93.00" lengthAdjust="spacingAndGlyphs">DASHBOARD</text><text x="80.40" y="133.00" font-size="15.4" fill="#333" textLength="131.98" lengthAdjust="spacingAndGlyphs">PRODUK TERJUAL</text><text x="697.70" y="133.00" font-size="15.4" fill="#333" textLength="179.99" lengthAdjust="spacingAndGlyphs">Jumlah Toko Per Wilayah</text><text x="1184.70" y="131.70" font-size="13" fill="#fff" font-weight="bold" textLength="21.99" lengthAdjust="spacingAndGlyphs">Add</text><text x="1317.50" y="133.00" font-size="15.4" fill="#333" textLength="184.94" lengthAdjust="spacingAndGlyphs">PERKEMBANGAN HARGA</text><text x="1803.70" y="131.70" font-size="13" fill="#fff" font-weight="bold" textLength="21.99" lengthAdjust="spacingAndGlyphs">Add</text><text x="80.00" y="558.00" font-size="15.4" fill="#333" textLength="120.03" lengthAdjust="spacingAndGlyphs">HARGA PRODUK</text><text x="541.10" y="556.30" font-size="13" fill="#fff" font-weight="bold" textLength="21.99" lengthAdjust="spacingAndGlyphs">Add</text><text x="698.40" y="558.00" font-size="15.4" fill="#333" textLength="78.99" lengthAdjust="spacingAndGlyphs">MAP TOKO</text><text x="1184.70" y="556.30" font-size="13" fill="#fff" font-weight="bold" textLength="21.99" lengthAdjust="spacingAndGlyphs">Add</text><text x="69.80" y="165.00" font-size="13.3" fill="#666" textLength="39.59" lengthAdjust="spacingAndGlyphs">NAMA</text><text x="105.50" y="183.20" font-size="11" fill="#555" textLength="79.51" lengthAdjust="spacingAndGlyphs">ROSSO MERAH</text><text x="221.70" y="183.20" font-size="11" fill="#555" textLength="74.52" lengthAdjust="spacingAndGlyphs">ROSSO HITAM</text><text x="332.50" y="183.20" font-size="11" fill="#555" textLength="87.18" lengthAdjust="spacingAndGlyphs">ROSSO COLKLAT</text><text x="456.30" y="183.20" font-size="11" fill="#555" textLength="52.42" lengthAdjust="spacingAndGlyphs">ROSSO 16</text><text x="545.00" y="183.20" font-size="11" fill="#555" textLength="45.02" lengthAdjust="spacingAndGlyphs">GK REFIL</text><text x="401.65" y="306.00" font-size="11.5" fill="#f3dede" textLength="21.72" lengthAdjust="spacingAndGlyphs">19%</text><text x="432.75" y="386.00" font-size="11.5" fill="#e6e6e6" textLength="21.72" lengthAdjust="spacingAndGlyphs">19%</text><text x="355.95" y="445.10" font-size="11.5" fill="#eee6dc" textLength="21.72" lengthAdjust="spacingAndGlyphs">25%</text><text x="281.55" y="367.00" font-size="11.5" fill="#3a3a2a" textLength="21.72" lengthAdjust="spacingAndGlyphs">24%</text><text x="329.25" y="298.60" font-size="11.5" fill="#e6f3e6" textLength="21.72" lengthAdjust="spacingAndGlyphs">12%</text><text x="724.00" y="165.40" font-size="11" fill="#555" textLength="31.18" lengthAdjust="spacingAndGlyphs">Count</text><text x="729.9" y="433.20" font-size="10.4" fill="#6e7079" text-anchor="end">0</text><text x="729.9" y="400.33" font-size="10.4" fill="#6e7079" text-anchor="end">100</text><text x="729.9" y="367.46" font-size="10.4" fill="#6e7079" text-anchor="end">200</text><text x="729.9" y="334.59" font-size="10.4" fill="#6e7079" text-anchor="end">300</text><text x="729.9" y="301.72" font-size="10.4" fill="#6e7079" text-anchor="end">400</text><text x="729.9" y="268.85" font-size="10.4" fill="#6e7079" text-anchor="end">500</text><text x="729.9" y="235.98" font-size="10.4" fill="#6e7079" text-anchor="end">600</text><text x="729.9" y="203.11" font-size="10.4" fill="#6e7079" text-anchor="end">700</text><text transform="translate(743.24 437.5) rotate(-45)" x="0" y="3.5" font-size="10" fill="#6e7079" text-anchor="end" textLength="27.11" lengthAdjust="spacingAndGlyphs">[blank]</text><text transform="translate(769.42 437.5) rotate(-45)" x="0" y="3.5" font-size="10" fill="#6e7079" text-anchor="end" textLength="79.75" lengthAdjust="spacingAndGlyphs">BINANGUN KAMIS</text><text transform="translate(795.59 437.5) rotate(-45)" x="0" y="3.5" font-size="10" fill="#6e7079" text-anchor="end" textLength="81.79" lengthAdjust="spacingAndGlyphs">BINANGUN SABTU</text><text transform="translate(821.77 437.5) rotate(-45)" x="0" y="3.5" font-size="10" fill="#6e7079" text-anchor="end" textLength="21.48" lengthAdjust="spacingAndGlyphs">Doko</text><text transform="translate(847.94 437.5) rotate(-45)" x="0" y="3.5" font-size="10" fill="#6e7079" text-anchor="end" textLength="65.45" lengthAdjust="spacingAndGlyphs">DOKO SELASA</text><text transform="translate(874.12 437.5) rotate(-45)" x="0" y="3.5" font-size="10" fill="#6e7079" text-anchor="end" textLength="90.53" lengthAdjust="spacingAndGlyphs">Gagal mendapatkan...</text><text transform="translate(900.29 437.5) rotate(-45)" x="0" y="3.5" font-size="10" fill="#6e7079" text-anchor="end" textLength="87.98" lengthAdjust="spacingAndGlyphs">Kecamatan Binangun</text><text transform="translate(926.47 437.5) rotate(-45)" x="0" y="3.5" font-size="10" fill="#6e7079" text-anchor="end" textLength="70.57" lengthAdjust="spacingAndGlyphs">Kecamatan Doko</text><text transform="translate(952.64 437.5) rotate(-45)" x="0" y="3.5" font-size="10" fill="#6e7079" text-anchor="end" textLength="82.85" lengthAdjust="spacingAndGlyphs">Kecamatan Kalipare</text><text transform="translate(978.82 437.5) rotate(-45)" x="0" y="3.5" font-size="10" fill="#6e7079" text-anchor="end" textLength="73.13" lengthAdjust="spacingAndGlyphs">Kecamatan Kroya</text><text transform="translate(1004.99 437.5) rotate(-45)" x="0" y="3.5" font-size="10" fill="#6e7079" text-anchor="end" textLength="97.69" lengthAdjust="spacingAndGlyphs">Kecamatan Sanankulon</text><text transform="translate(1031.17 437.5) rotate(-45)" x="0" y="3.5" font-size="10" fill="#6e7079" text-anchor="end" textLength="85.93" lengthAdjust="spacingAndGlyphs">Kecamatan Selopuro</text><text transform="translate(1057.34 437.5) rotate(-45)" x="0" y="3.5" font-size="10" fill="#6e7079" text-anchor="end" textLength="85.41" lengthAdjust="spacingAndGlyphs">Kecamatan Sukorejo</text><text transform="translate(1083.52 437.5) rotate(-45)" x="0" y="3.5" font-size="10" fill="#6e7079" text-anchor="end" textLength="90.02" lengthAdjust="spacingAndGlyphs">Kecamatan Sutojayan</text><text transform="translate(1109.69 437.5) rotate(-45)" x="0" y="3.5" font-size="10" fill="#6e7079" text-anchor="end" textLength="74.83" lengthAdjust="spacingAndGlyphs">Kecamatan Wates</text><text transform="translate(1135.87 437.5) rotate(-45)" x="0" y="3.5" font-size="10" fill="#6e7079" text-anchor="end" textLength="43.98" lengthAdjust="spacingAndGlyphs">Kesamben</text><text transform="translate(1162.04 437.5) rotate(-45)" x="0" y="3.5" font-size="10" fill="#6e7079" text-anchor="end" textLength="81.80" lengthAdjust="spacingAndGlyphs">KESAMBEN SENIN</text><text transform="translate(1188.22 437.5) rotate(-45)" x="0" y="3.5" font-size="10" fill="#6e7079" text-anchor="end" textLength="36.83" lengthAdjust="spacingAndGlyphs">Selopuro</text><text transform="translate(1214.39 437.5) rotate(-45)" x="0" y="3.5" font-size="10" fill="#6e7079" text-anchor="end" textLength="89.48" lengthAdjust="spacingAndGlyphs">SELOPURO SELASA</text><text transform="translate(1240.57 437.5) rotate(-45)" x="0" y="3.5" font-size="10" fill="#6e7079" text-anchor="end" textLength="25.05" lengthAdjust="spacingAndGlyphs">Wlingi</text><text transform="translate(1281 430.1) rotate(-90)" x="0" y="0" font-size="10" fill="#6e7079" text-anchor="middle" textLength="40" lengthAdjust="spacingAndGlyphs">WILAYAH</text><text x="1344.50" y="165.10" font-size="11" fill="#555" textLength="78.81" lengthAdjust="spacingAndGlyphs">ROSSO MERAH</text><text x="1460.80" y="165.10" font-size="11" fill="#555" textLength="74.22" lengthAdjust="spacingAndGlyphs">ROSSO HITAM</text><text x="1572.50" y="165.10" font-size="11" fill="#555" textLength="81.72" lengthAdjust="spacingAndGlyphs">ROSSO COKLAT</text><text x="1691.70" y="165.10" font-size="11" fill="#555" textLength="52.52" lengthAdjust="spacingAndGlyphs">ROSSO 16</text><text x="1781.30" y="165.10" font-size="11" fill="#555" textLength="50.38" lengthAdjust="spacingAndGlyphs">GK REFILL</text><text x="1361.3" y="474.30" font-size="10.2" fill="#6e7079" text-anchor="end" textLength="22.80" lengthAdjust="spacingAndGlyphs">6,000</text><text x="1361.3" y="435.60" font-size="10.2" fill="#6e7079" text-anchor="end" textLength="22.80" lengthAdjust="spacingAndGlyphs">7,000</text><text x="1361.3" y="396.90" font-size="10.2" fill="#6e7079" text-anchor="end" textLength="22.80" lengthAdjust="spacingAndGlyphs">8,000</text><text x="1361.3" y="358.20" font-size="10.2" fill="#6e7079" text-anchor="end" textLength="22.80" lengthAdjust="spacingAndGlyphs">9,000</text><text x="1361.3" y="319.50" font-size="10.2" fill="#6e7079" text-anchor="end" textLength="27.90" lengthAdjust="spacingAndGlyphs">10,000</text><text x="1361.3" y="280.80" font-size="10.2" fill="#6e7079" text-anchor="end" textLength="27.90" lengthAdjust="spacingAndGlyphs">11,000</text><text x="1361.3" y="242.10" font-size="10.2" fill="#6e7079" text-anchor="end" textLength="27.90" lengthAdjust="spacingAndGlyphs">12,000</text><text x="1361.3" y="203.40" font-size="10.2" fill="#6e7079" text-anchor="end" textLength="27.90" lengthAdjust="spacingAndGlyphs">13,000</text><text transform="translate(1496.10 478.5) rotate(-45)" x="0" y="3.5" font-size="10" fill="#6e7079" text-anchor="end" textLength="38.00" lengthAdjust="spacingAndGlyphs">1/5/2025</text><text transform="translate(1751.60 478.5) rotate(-45)" x="0" y="3.5" font-size="10" fill="#6e7079" text-anchor="end" textLength="44.00" lengthAdjust="spacingAndGlyphs">14/5/2025</text><text transform="translate(1900 471) rotate(-90)" x="0" y="0" font-size="10" fill="#6e7079" text-anchor="middle" textLength="84" lengthAdjust="spacingAndGlyphs">TANGGAL BERLAKU</text><text x="75.90" y="597.20" font-size="12.2" fill="#222" font-weight="bold" textLength="105.58" lengthAdjust="spacingAndGlyphs">TANGGAL BERLAKU</text><text x="231.00" y="597.20" font-size="12.2" fill="#222" font-weight="bold" textLength="80.21" lengthAdjust="spacingAndGlyphs">ROSSO MERAH</text><text x="361.20" y="597.20" font-size="12.2" fill="#222" font-weight="bold" textLength="75.02" lengthAdjust="spacingAndGlyphs">ROSSO HITAM</text><text x="486.10" y="597.20" font-size="12.2" fill="#222" font-weight="bold" textLength="83.52" lengthAdjust="spacingAndGlyphs">ROSSO COKLAT</text><svg x="0" y="0" width="671.5" height="959" style="overflow:hidden"><text x="619.50" y="597.20" font-size="12.2" fill="#222" font-weight="bold" textLength="52.35" lengthAdjust="spacingAndGlyphs">ROSSO 16</text><text x="619.30" y="630.80" font-size="12" fill="#333" textLength="57.41" lengthAdjust="spacingAndGlyphs">Rp8.000,00</text><text x="619.30" y="665.20" font-size="12" fill="#333" textLength="63.60" lengthAdjust="spacingAndGlyphs">Rp10.000,00</text></svg><text x="76.70" y="630.80" font-size="12" fill="#333" textLength="48.07" lengthAdjust="spacingAndGlyphs">1/5/2025</text><text x="76.70" y="665.20" font-size="12" fill="#333" textLength="54.29" lengthAdjust="spacingAndGlyphs">14/5/2025</text><text x="231.40" y="630.80" font-size="12" fill="#333" textLength="57.41" lengthAdjust="spacingAndGlyphs">Rp6.000,00</text><text x="231.40" y="665.20" font-size="12" fill="#333" textLength="57.41" lengthAdjust="spacingAndGlyphs">Rp7.500,00</text><text x="361.30" y="630.80" font-size="12" fill="#333" textLength="57.41" lengthAdjust="spacingAndGlyphs">Rp6.000,00</text><text x="361.30" y="665.20" font-size="12" fill="#333" textLength="57.41" lengthAdjust="spacingAndGlyphs">Rp7.500,00</text><text x="486.00" y="630.80" font-size="12" fill="#333" textLength="57.41" lengthAdjust="spacingAndGlyphs">Rp6.000,00</text><text x="486.00" y="665.20" font-size="12" fill="#333" textLength="57.41" lengthAdjust="spacingAndGlyphs">Rp7.500,00</text><text x="711.90" y="603.00" font-size="15" fill="#000" font-weight="bold" textLength="31.79" lengthAdjust="spacingAndGlyphs">Peta</text><text x="786.20" y="603.00" font-size="15" fill="#565656" textLength="44.39" lengthAdjust="spacingAndGlyphs">Satelit</text><text x="692.60" y="938.70" font-size="14.5" fill="#fff" textLength="50.00" lengthAdjust="spacingAndGlyphs" stroke="#6f6f6f" stroke-width="1.8" paint-order="stroke">Google</text><text x="1074.30" y="943.90" font-size="10" fill="#3c3c3c" textLength="73.29" lengthAdjust="spacingAndGlyphs">Pintasan keyboard</text><text x="1158.70" y="943.90" font-size="10" fill="#3c3c3c" textLength="67.91" lengthAdjust="spacingAndGlyphs">Data peta ©2025</text><text x="1237.60" y="943.90" font-size="10" fill="#3c3c3c" textLength="46.22" lengthAdjust="spacingAndGlyphs">Persyaratan</text><text x="959.00" y="886.60" font-size="11.5" fill="#3c3c3c" font-weight="bold" textLength="34.39" lengthAdjust="spacingAndGlyphs" stroke="#fff" stroke-width="2" paint-order="stroke">Wlingi</text><text transform="translate(839.8 912.3) rotate(16.9)" x="0" y="0" font-size="10" fill="#555" stroke="#fff" stroke-width="2" paint-order="stroke" textLength="80" lengthAdjust="spacingAndGlyphs">Jl. Raya Jatitengah</text><text transform="translate(815.5 664) rotate(-71)" x="0" y="0" font-size="9.5" fill="#555" stroke="#fff" stroke-width="2" paint-order="stroke" textLength="38" lengthAdjust="spacingAndGlyphs">Jl. Kelud</text><text transform="translate(1043.5 624.5) rotate(82)" x="0" y="0" font-size="9.5" fill="#555" stroke="#fff" stroke-width="2" paint-order="stroke" textLength="50" lengthAdjust="spacingAndGlyphs">Jl. Suropati</text></svg>
<div class="a" style="left:0;top:958px;width:1919px;height:1px;background:#0b0b10"></div>
</body></html>
